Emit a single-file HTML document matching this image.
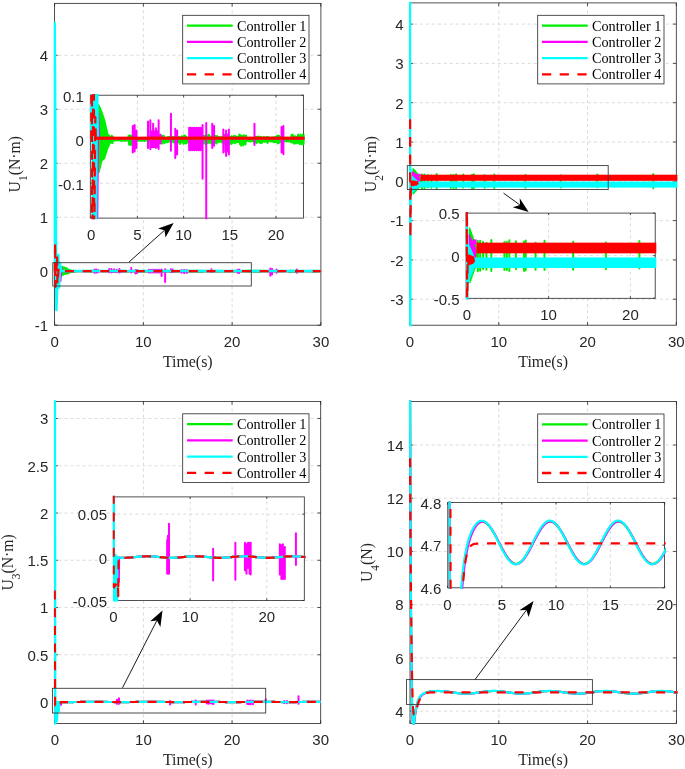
<!DOCTYPE html>
<html><head><meta charset="utf-8"><style>html,body{margin:0;padding:0;background:#fff;overflow:hidden}svg{display:block}</style></head>
<body><svg style="will-change:transform" width="685" height="769" viewBox="0 0 685 769" font-family='"Liberation Sans", sans-serif' font-size="15" fill="#262626">
<rect width="685" height="769" fill="#fff"/>
<clipPath id="c1"><rect x="53.5" y="2.25" width="268.5" height="324.05"/></clipPath>
<rect x="54.6" y="3.35" width="266.3" height="321.85" fill="#fff"/>
<path d="M143.37 325.2V3.35M232.14 325.2V3.35" stroke="#d6d6d6" stroke-width="0.9" stroke-dasharray="3 3" fill="none"/>
<path d="M54.6 271.2H320.9M54.6 217.22H320.9M54.6 163.24H320.9M54.6 109.26H320.9M54.6 55.28H320.9" stroke="#d6d6d6" stroke-width="0.9" stroke-dasharray="3 3" stroke-dashoffset="2.2" fill="none"/>
<path d="M54.6 325.2v-3.2M54.6 3.35v3.2M143.37 325.2v-3.2M143.37 3.35v3.2M232.14 325.2v-3.2M232.14 3.35v3.2M320.91 325.2v-3.2M320.91 3.35v3.2M54.6 325.18h3.2M320.9 325.18h-3.2M54.6 271.2h3.2M320.9 271.2h-3.2M54.6 217.22h3.2M320.9 217.22h-3.2M54.6 163.24h3.2M320.9 163.24h-3.2M54.6 109.26h3.2M320.9 109.26h-3.2M54.6 55.28h3.2M320.9 55.28h-3.2" stroke="#262626" stroke-width="0.8" fill="none"/>
<rect x="54.6" y="3.35" width="266.3" height="321.85" stroke="#262626" stroke-width="0.8" fill="none"/>
<g clip-path="url(#c1)">
<polygon points="61.26,271.20 61.70,267.04 64.36,267.85 67.03,268.88 70.13,270.61 72.35,270.88 75.02,271.04 75.02,271.36 72.35,271.63 70.13,272.28 67.03,273.52 64.36,273.85 61.70,275.25 61.26,271.20" fill="#00ee00" stroke="#00ee00" stroke-width="2.2" stroke-linejoin="round"/>
<polyline points="72.35,271 72.89,271.55 73.42,270.92 73.95,271.62 74.48,270.78 75.02,271.68 75.55,270.92 76.08,271.32 76.61,271.18 77.15,271.38 77.68,271.16 78.21,271.36 78.75,271.19 79.28,271.32 79.81,271.14 80.34,271.35 80.88,271.17 81.41,271.34 81.94,271.19 82.47,271.33 83.01,271.15 83.54,271.44 84.07,271.1 84.6,271.37 85.14,271.08 85.67,271.38 86.2,271.15 86.73,271.42 87.27,271.06 87.8,271.36 88.33,271.07 88.87,271.38 89.4,271.14 89.93,271.36 90.46,270.8 91,271.87 91.53,270.72 92.06,271.91 92.59,270.82 93.13,271.72 93.66,270.81 94.19,271.96 94.72,270.57 95.26,271.73 95.79,270.74 96.32,271.72 96.85,270.63 97.39,271.33 97.92,271.17 98.45,271.36 98.99,271.16 99.52,271.4 100.05,271.12 100.58,271.37 101.12,271.13 101.65,271.38 102.18,271.12 102.71,271.4 103.25,271.17 103.78,271.38 104.31,271.14 104.84,271.39 105.38,271.08 105.91,271.44 106.44,271.09 106.97,271.35 107.51,271.12 108.04,271.37 108.57,271.06 109.1,271.36 109.64,271.13 110.17,271.38 110.7,271.15 111.24,271.43 111.77,270.66 112.3,271.67 112.83,270.71 113.37,271.64 113.9,270.67 114.43,271.7 114.96,270.88 115.5,271.66 116.03,270.69 116.56,271.85 117.09,270.78 117.63,271.85 118.16,270.77 118.69,271.54 119.22,270.92 119.76,271.61 120.29,270.77 120.82,271.54 121.36,270.98 121.89,271.65 122.42,270.75 122.95,271.74 123.49,270.82 124.02,271.53 124.55,270.79 125.08,271.68 125.62,271.06 126.15,271.51 126.68,271.07 127.21,271.57 127.75,270.96 128.28,271.57 128.81,270.95 129.34,271.47 129.88,270.94 130.41,271.47 130.94,271.06 131.47,271.5 132.01,270.99 132.54,271.48 133.07,270.9 133.61,271.61 134.14,270.98 134.67,271.61 135.2,270.96 135.74,271.63 136.27,270.97 136.8,271.65 137.33,270.94 137.87,271.6 138.4,270.89 138.93,271.59 139.46,270.98 140,271.79 140.53,270.96 141.06,271.61 141.59,270.84 142.13,271.53 142.66,270.94 143.19,271.74 143.73,270.77 144.26,271.69 144.79,270.74 145.32,271.73 145.86,270.91 146.39,271.7 146.92,271.06 147.45,271.5 147.99,271.06 148.52,271.42 149.05,270.99 149.58,271.5 150.12,271 150.65,271.48 151.18,271 151.71,271.46 152.25,271.03 152.78,271.41 153.31,271.03 153.84,271.51 154.38,271.09 154.91,271.43 155.44,271.11 155.98,271.44 156.51,271.14 157.04,271.44 157.57,271.12 158.11,271.36 158.64,271.09 159.17,271.4 159.7,271.11 160.24,271.44 160.77,271.14 161.3,271.75 161.83,270.82 162.37,271.73 162.9,270.79 163.43,271.6 163.96,270.79 164.5,271.83 165.03,270.89 165.56,271.57 166.1,270.92 166.63,271.71 167.16,270.64 167.69,271.58 168.23,270.71 168.76,271.67 169.29,270.95 169.82,271.64 170.36,270.93 170.89,271.72 171.42,270.84 171.95,271.6 172.49,270.91 173.02,271.76 173.55,270.78 174.08,271.64 174.62,270.87 175.15,271.73 175.68,270.82 176.21,271.49 176.75,271 177.28,271.55 177.81,270.92 178.35,271.49 178.88,271.02 179.41,271.52 179.94,270.95 180.48,271.64 181.01,270.9 181.54,271.48 182.07,271.02 182.61,271.72 183.14,270.66 183.67,271.86 184.2,270.82 184.74,271.86 185.27,270.64 185.8,271.7 186.33,270.7 186.87,271.69 187.4,270.89 187.93,271.76 188.47,270.91 189,271.78 189.53,270.83 190.06,271.7 190.6,270.92 191.13,271.51 191.66,270.81 192.19,271.69 192.73,270.8 193.26,271.62 193.79,270.87 194.32,271.57 194.86,270.98 195.39,271.55 195.92,270.86 196.45,271.56 196.99,270.63 197.52,271.81 198.05,270.72 198.58,271.99 199.12,270.82 199.65,271.81 200.18,270.82 200.72,271.97 201.25,270.7 201.78,271.75 202.31,270.82 202.85,271.85 203.38,270.73 203.91,271.39 204.44,271.13 204.98,271.42 205.51,271.06 206.04,271.44 206.57,271.03 207.11,271.48 207.64,271.02 208.17,271.47 208.7,271.08 209.24,271.44 209.77,271.09 210.3,271.42 210.84,271.01 211.37,271.67 211.9,270.96 212.43,271.49 212.97,270.91 213.5,271.65 214.03,270.92 214.56,271.57 215.1,270.87 215.63,271.53 216.16,271.02 216.69,271.63 217.23,270.9 217.76,271.69 218.29,270.96 218.82,271.63 219.36,271.04 219.89,271.47 220.42,270.92 220.95,271.51 221.49,271.03 222.02,271.49 222.55,270.96 223.09,271.54 223.62,270.92 224.15,271.65 224.68,270.97 225.22,271.45 225.75,270.99 226.28,271.42 226.81,271.02 227.35,271.48 227.88,271.02 228.41,271.43 228.94,270.99 229.48,271.53 230.01,270.96 230.54,271.58 231.07,271.03 231.61,271.53 232.14,270.9 232.67,271.55 233.21,270.79 233.74,271.68 234.27,270.78 234.8,271.7 235.34,270.78 235.87,271.53 236.4,271 236.93,271.55 237.47,270.91 238,271.67 238.53,270.9 239.06,271.63 239.6,271.02 240.13,271.39 240.66,271.04 241.19,271.39 241.73,271.09 242.26,271.48 242.79,271.03 243.33,271.44 243.86,271.09 244.39,271.49 244.92,271.09 245.46,271.39 245.99,271.09 246.52,271.57 247.05,270.69 247.59,271.61 248.12,270.63 248.65,271.63 249.18,270.84 249.72,271.75 250.25,270.84 250.78,271.69 251.31,270.91 251.85,271.69 252.38,270.93 252.91,271.64 253.44,270.61 253.98,271.68 254.51,270.83 255.04,271.82 255.58,270.62 256.11,271.69 256.64,270.79 257.17,271.83 257.71,270.65 258.24,271.79 258.77,270.86 259.3,271.65 259.84,270.67 260.37,271.83 260.9,271.07 261.43,271.42 261.97,271.12 262.5,271.36 263.03,271.07 263.56,271.42 264.1,271.1 264.63,271.41 265.16,271.12 265.7,271.38 266.23,271.1 266.76,271.4 267.29,271.09 267.83,271.65 268.36,270.87 268.89,271.54 269.42,270.97 269.96,271.65 270.49,270.97 271.02,271.62 271.55,271.03 272.09,271.55 272.62,270.94 273.15,271.63 273.68,270.87 274.22,271.49 274.75,271.02 275.28,271.49 275.81,271.09 276.35,271.52 276.88,271.03 277.41,271.54 277.95,271.08 278.48,271.47 279.01,271.06 279.54,271.49 280.08,271.02 280.61,271.47 281.14,271.06 281.67,271.47 282.21,271.14 282.74,271.41 283.27,271.14 283.8,271.37 284.34,271.15 284.87,271.36 285.4,271.1 285.93,271.36 286.47,271.1 287,271.38 287.53,271.09 288.07,271.35 288.6,271.1 289.13,271.86 289.66,270.71 290.2,271.84 290.73,270.66 291.26,271.75 291.79,270.69 292.33,271.68 292.86,270.9 293.39,271.83 293.92,270.75 294.46,271.91 294.99,270.82 295.52,271.88 296.05,270.87 296.59,271.62 297.12,270.87 297.65,271.48 298.18,271.03 298.72,271.49 299.25,270.99 299.78,271.47 300.32,271.03 300.85,271.45 301.38,270.88 301.91,271.52 302.45,270.94 302.98,271.54 303.51,271.08 304.04,271.44 304.58,271.11 305.11,271.41 305.64,271.14 306.17,271.38 306.71,271.13 307.24,271.39 307.77,271.12 308.3,271.41 308.84,271.12 309.37,271.39 309.9,271.07 310.44,271.53 310.97,270.98 311.5,271.54 312.03,270.75 312.57,271.7 313.1,270.78 313.63,271.79 314.16,270.92 314.7,271.78 315.23,270.92 315.76,271.67 316.29,270.8 316.83,271.74 317.36,271.1 317.89,271.43 318.42,271.13 318.96,271.41 319.49,271.02 320.02,271.48 320.55,271.06" stroke="#00ee00" stroke-width="2.0" fill="none" stroke-linejoin="round"/>
<polyline points="59.48,271.2 60.37,280.92 61.26,267.96 62.15,271.09 63.03,271.09 320.91,271.09" stroke="#ff00ff" stroke-width="2.2" fill="none" stroke-linejoin="round"/>
<path d="M94.55 269.58V272.82M96.32 269.47V272.71M98.1 270.12V272.28M109.19 269.04V272.28M111.41 268.88V272.44M114.08 269.31V272.01M116.74 269.85V272.28M119.4 268.88V272.39M121.18 270.66V271.74M131.21 268.07V272.6M135.38 269.9V273.52M137.16 270.12V273.09M148.7 269.8V272.55M150.47 269.8V272.55M152.25 269.8V272.55M154.02 269.8V272.55M155.8 269.8V272.55M157.57 269.8V272.55M159.35 269.8V272.55M161.12 269.8V272.55M161.57 269.47V276.06M165.12 269.2V282M170.89 269.31V272.28M172.66 269.58V272.01M181.54 270.01V272.82M184.2 270.12V273.25M186.87 270.01V273.09M211.46 269.31V271.9M237.47 269.69V272.82M239.24 269.58V273.04M270.31 268.5V275.68M272.09 269.04V274.44M276.53 269.58V272.82M296.94 269.58V272.82" stroke="#ff00ff" stroke-width="2.0" fill="none" stroke-linecap="round"/>
<rect x="110.97" y="270.12" width="8.43" height="2.16" fill="#ff00ff"/>
<rect x="182.43" y="270.55" width="3.99" height="2.27" fill="#ff00ff"/>
<polyline points="54.6,271.2 54.69,22.89 56.38,310.07 58.33,255.01 59.04,287.39 60.1,263.1 60.99,271.09 320.91,271.09" stroke="#00ffff" stroke-width="2.5" fill="none" stroke-linejoin="round"/>
<polyline points="54.6,271.2 55.13,242.59 55.49,286.85 57.09,255.01 57.44,284.69 58.59,268.5 59.04,271.2 320.91,271.2" stroke="#ff0000" stroke-width="2.2" fill="none" stroke-linejoin="round" stroke-dasharray="9 8.7"/>
</g>
<text x="54.6" y="347" text-anchor="middle">0</text>
<text x="143.37" y="347" text-anchor="middle">10</text>
<text x="232.14" y="347" text-anchor="middle">20</text>
<text x="320.91" y="347" text-anchor="middle">30</text>
<text x="48.1" y="330.98" text-anchor="end">-1</text>
<text x="48.1" y="277" text-anchor="end">0</text>
<text x="48.1" y="223.02" text-anchor="end">1</text>
<text x="48.1" y="169.04" text-anchor="end">2</text>
<text x="48.1" y="115.06" text-anchor="end">3</text>
<text x="48.1" y="61.08" text-anchor="end">4</text>
<text x="187.75" y="366.5" text-anchor="middle" font-family='"Liberation Serif", serif' font-size="15.9" fill="#262626">Time(s)</text>
<text transform="translate(19.5,164.28) rotate(-90)" text-anchor="middle" font-family='"Liberation Serif", serif' font-size="15.7" fill="#262626">U<tspan font-size="11.5" dy="7.3">1</tspan><tspan dy="-7.3">(N·m)</tspan></text>
<rect x="182.7" y="15.3" width="126.3" height="68.6" fill="#fff" stroke="#262626" stroke-width="0.8"/>
<path d="M187 25.7H232.7" stroke="#00ee00" stroke-width="2.3"/>
<text x="236.9" y="30.7" font-family='"Liberation Serif", serif' font-size="14.2" letter-spacing="0.05" fill="#000">Controller 1</text>
<path d="M187 41.9H232.7" stroke="#ff00ff" stroke-width="2.3"/>
<text x="236.9" y="46.9" font-family='"Liberation Serif", serif' font-size="14.2" letter-spacing="0.05" fill="#000">Controller 2</text>
<path d="M187 58.1H232.7" stroke="#00ffff" stroke-width="2.3"/>
<text x="236.9" y="63.1" font-family='"Liberation Serif", serif' font-size="14.2" letter-spacing="0.05" fill="#000">Controller 3</text>
<path d="M187 74.3H232.7" stroke="#ff0000" stroke-width="2.3" stroke-dasharray="9.2 8.5"/>
<text x="236.9" y="79.3" font-family='"Liberation Serif", serif' font-size="14.2" letter-spacing="0.05" fill="#000">Controller 4</text>
<rect x="52.8" y="262.7" width="198.5" height="23.3" fill="none" stroke="#3a3a3a" stroke-width="0.9"/>
<clipPath id="c5"><rect x="89.2" y="94.1" width="215.4" height="125.1"/></clipPath>
<rect x="90.3" y="95.2" width="213.2" height="122.9" fill="#fff"/>
<path d="M137.4 218.1V95.2M183.6 218.1V95.2M229.8 218.1V95.2M276 218.1V95.2" stroke="#d6d6d6" stroke-width="0.9" stroke-dasharray="3 3" fill="none"/>
<path d="M90.3 183.2H303.5M90.3 139.2H303.5" stroke="#d6d6d6" stroke-width="0.9" stroke-dasharray="3 3" stroke-dashoffset="2.2" fill="none"/>
<path d="M91.2 218.1v-2.1M91.2 95.2v2.1M137.4 218.1v-2.1M137.4 95.2v2.1M183.6 218.1v-2.1M183.6 95.2v2.1M229.8 218.1v-2.1M229.8 95.2v2.1M276 218.1v-2.1M276 95.2v2.1M90.3 183.2h2.1M303.5 183.2h-2.1M90.3 139.2h2.1M303.5 139.2h-2.1M90.3 95.2h2.1M303.5 95.2h-2.1" stroke="#262626" stroke-width="0.8" fill="none"/>
<rect x="90.3" y="95.2" width="213.2" height="122.9" stroke="#262626" stroke-width="0.8" fill="none"/>
<g clip-path="url(#c5)">
<polygon points="98.13,139.20 98.59,105.32 101.36,111.92 104.14,120.28 107.37,134.36 109.68,136.56 112.45,137.88 112.45,140.52 109.68,142.72 107.37,148.00 104.14,158.12 101.36,160.76 98.59,172.20 98.13,139.20" fill="#00ee00" stroke="#00ee00" stroke-width="2.2" stroke-linejoin="round"/>
<polyline points="109.68,137.54 110.23,142.08 110.79,136.91 111.34,142.62 111.9,135.77 112.45,143.08 113.01,136.92 113.56,140.16 114.12,139.04 114.67,140.67 115.22,138.89 115.78,140.51 116.33,139.1 116.89,140.17 117.44,138.69 118,140.46 118.55,138.97 119.1,140.32 119.66,139.08 120.21,140.24 120.77,138.79 121.32,141.17 121.88,138.42 122.43,140.58 122.99,138.2 123.54,140.63 124.09,138.76 124.65,140.97 125.2,138.07 125.76,140.49 126.31,138.14 126.87,140.63 127.42,138.73 127.98,140.49 128.53,135.9 129.08,144.63 129.64,135.32 130.19,145 130.75,136.12 131.3,143.44 131.86,136 132.41,145.36 132.96,134.03 133.52,143.52 134.07,135.49 134.63,143.44 135.18,134.59 135.74,140.29 136.29,138.97 136.85,140.52 137.4,138.86 137.95,140.79 138.51,138.55 139.06,140.61 139.62,138.6 140.17,140.7 140.73,138.53 141.28,140.85 141.84,138.92 142.39,140.66 142.94,138.74 143.5,140.77 144.05,138.24 144.61,141.12 145.16,138.26 145.72,140.45 146.27,138.58 146.82,140.55 147.38,138.08 147.93,140.54 148.49,138.67 149.04,140.7 149.6,138.81 150.15,141.1 150.71,134.82 151.26,143.05 151.81,135.23 152.37,142.82 152.92,134.9 153.48,143.27 154.03,136.58 154.59,142.92 155.14,135.06 155.7,144.46 156.25,135.74 156.8,144.48 157.36,135.66 157.91,141.99 158.47,136.9 159.02,142.54 159.58,135.66 160.13,141.96 160.68,137.38 161.24,142.89 161.79,135.55 162.35,143.61 162.9,136.1 163.46,141.86 164.01,135.88 164.57,143.14 165.12,138.02 165.67,141.71 166.23,138.16 166.78,142.19 167.34,137.21 167.89,142.19 168.45,137.15 169,141.43 169.56,137.11 170.11,141.41 170.66,138.03 171.22,141.61 171.77,137.52 172.33,141.46 172.88,136.77 173.44,142.51 173.99,137.42 174.54,142.54 175.1,137.21 175.65,142.75 176.21,137.33 176.76,142.86 177.32,137.11 177.87,142.42 178.43,136.64 178.98,142.36 179.53,137.39 180.09,143.97 180.64,137.24 181.2,142.54 181.75,136.25 182.31,141.89 182.86,137.11 183.42,143.58 183.97,135.73 184.52,143.22 185.08,135.48 185.63,143.48 186.19,136.8 186.74,143.24 187.3,138.08 187.85,141.68 188.4,138.02 188.96,140.99 189.51,137.45 190.07,141.61 190.62,137.6 191.18,141.46 191.73,137.56 192.29,141.33 192.84,137.81 193.39,140.88 193.95,137.83 194.5,141.76 195.06,138.27 195.61,141.09 196.17,138.44 196.72,141.15 197.28,138.75 197.83,141.15 198.38,138.54 198.94,140.52 199.49,138.34 200.05,140.81 200.6,138.49 201.16,141.13 201.71,138.72 202.26,143.72 202.82,136.08 203.37,143.49 203.93,135.86 204.48,142.5 205.04,135.83 205.59,144.33 206.15,136.69 206.7,142.19 207.25,136.95 207.81,143.32 208.36,134.66 208.92,142.27 209.47,135.24 210.03,143.03 210.58,137.16 211.14,142.77 211.69,136.97 212.24,143.43 212.8,136.23 213.35,142.49 213.91,136.87 214.46,143.77 215.02,135.74 215.57,142.81 216.12,136.53 216.68,143.48 217.23,136.11 217.79,141.58 218.34,137.56 218.9,142.08 219.45,136.94 220.01,141.56 220.56,137.75 221.11,141.83 221.67,137.16 222.22,142.76 222.78,136.75 223.33,141.49 223.89,137.77 224.44,143.41 225,134.77 225.55,144.61 226.1,136.1 226.66,144.54 227.21,134.63 227.77,143.29 228.32,135.11 228.88,143.18 229.43,136.65 229.98,143.73 230.54,136.82 231.09,143.96 231.65,136.22 232.2,143.26 232.76,136.9 233.31,141.75 233.87,136.05 234.42,143.17 234.97,135.92 235.53,142.65 236.08,136.48 236.64,142.23 237.19,137.4 237.75,142.08 238.3,136.39 238.86,142.14 239.41,134.52 239.96,144.19 240.52,135.25 241.07,145.6 241.63,136.11 242.18,144.15 242.74,136.13 243.29,145.51 243.84,135.13 244.4,143.68 244.95,136.1 245.51,144.47 246.06,135.4 246.62,140.74 247.17,138.63 247.73,141 248.28,138.09 248.83,141.13 249.39,137.78 249.94,141.51 250.5,137.74 251.05,141.4 251.61,138.19 252.16,141.13 252.72,138.27 253.27,141.01 253.82,137.66 254.38,143.06 254.93,137.27 255.49,141.6 256.04,136.85 256.6,142.91 257.15,136.91 257.7,142.23 258.26,136.49 258.81,141.85 259.37,137.72 259.92,142.67 260.48,136.73 261.03,143.19 261.59,137.21 262.14,142.71 262.69,137.89 263.25,141.4 263.8,136.9 264.36,141.75 264.91,137.81 265.47,141.58 266.02,137.28 266.58,141.94 267.13,136.96 267.68,142.88 268.24,137.3 268.79,141.27 269.35,137.47 269.9,141.02 270.46,137.74 271.01,141.45 271.56,137.74 272.12,141.08 272.67,137.51 273.23,141.87 273.78,137.24 274.34,142.33 274.89,137.78 275.45,141.91 276,136.75 276.55,142.07 277.11,135.86 277.66,143.13 278.22,135.75 278.77,143.29 279.33,135.8 279.88,141.9 280.44,137.61 280.99,142.04 281.54,136.81 282.1,143.02 282.65,136.76 283.21,142.67 283.76,137.77 284.32,140.78 284.87,137.86 285.42,140.75 285.98,138.31 286.53,141.47 287.09,137.85 287.64,141.13 288.2,138.27 288.75,141.58 289.31,138.29 289.86,140.73 290.41,138.32 290.97,142.25 291.52,135.01 292.08,142.51 292.63,134.59 293.19,142.74 293.74,136.3 294.3,143.69 294.85,136.29 295.4,143.17 295.96,136.82 296.51,143.19 297.07,137.02 297.62,142.77 298.18,134.43 298.73,143.14 299.28,136.17 299.84,144.22 300.39,134.5 300.95,143.18 301.5,135.88 302.06,144.32 302.61,134.75 303.17,144.05 303.72,136.42 304.27,142.86 304.83,134.84 305.38,144.3 305.94,138.16 306.49,141.03 307.05,138.53 307.6,140.52 308.16,138.17 308.71,140.96 309.26,138.41 309.82,140.95 310.37,138.56 310.93,140.69 311.48,138.41 312.04,140.8 312.59,138.31 313.14,142.88 313.7,136.55 314.25,141.96 314.81,137.34 315.36,142.86 315.92,137.31 316.47,142.65 317.03,137.81 317.58,142.07 318.13,137.1 318.69,142.67 319.24,136.5 319.8,141.57 320.35,137.75 320.91,141.55 321.46,138.29 322.02,141.79 322.57,137.82 323.12,141.94 323.68,138.25 324.23,141.43 324.79,138.09 325.34,141.56 325.9,137.76 326.45,141.41 327,138.09 327.56,141.4 328.11,138.74 328.67,140.89 329.22,138.68 329.78,140.61 330.33,138.81 330.89,140.47 331.44,138.35 331.99,140.51 332.55,138.41 333.1,140.69 333.66,138.33 334.21,140.41 334.77,138.36 335.32,144.61 335.88,135.24 336.43,144.43 336.98,134.81 337.54,143.7 338.09,135.05 338.65,143.09 339.2,136.77 339.76,144.34 340.31,135.5 340.86,144.99 341.42,136.09 341.97,144.74 342.53,136.51 343.08,142.63 343.64,136.55 344.19,141.47 344.75,137.8 345.3,141.57 345.85,137.5 346.41,141.4 346.96,137.83 347.52,141.24 348.07,136.59 348.63,141.78 349.18,137.08 349.74,141.93 350.29,138.19 350.84,141.14 351.4,138.49 351.95,140.91 352.51,138.73 353.06,140.71 353.62,138.63 354.17,140.73 354.72,138.54 355.28,140.95 355.83,138.53 356.39,140.74 356.94,138.12 357.5,141.88 358.05,137.41 358.61,141.98 359.16,135.5 359.71,143.26 360.27,135.81 360.82,143.98 361.38,136.94 361.93,143.9 362.49,136.88 363.04,143.01 363.6,135.91 364.15,143.63 364.7,138.42 365.26,141.08 365.81,138.62 366.37,140.89 366.92,137.71 367.48,141.5 368.03,138.1" stroke="#00ee00" stroke-width="2.0" fill="none" stroke-linejoin="round"/>
<polyline points="96.28,139.2 97.21,218.4 98.13,112.8 99.05,138.32 99.98,138.32 368.4,138.32" stroke="#ff00ff" stroke-width="2.2" fill="none" stroke-linejoin="round"/>
<path d="M132.78 126V152.4M134.63 125.12V151.52M136.48 130.4V148M148.03 121.6V148M150.34 120.28V149.32M153.11 123.8V145.8M155.88 128.2V148M158.65 120.28V148.88M160.5 134.8V143.6M170.94 113.68V150.64M175.28 128.64V158.12M177.13 130.4V154.6M189.14 127.76V150.2M190.99 127.76V150.2M192.84 127.76V150.2M194.69 127.76V150.2M196.54 127.76V150.2M198.38 127.76V150.2M200.23 127.76V150.2M202.08 127.76V150.2M202.54 125.12V178.8M206.24 122.92V227.2M212.24 123.8V148M214.09 126V145.8M223.33 129.52V152.4M226.1 130.4V155.92M228.88 129.52V154.6M254.47 123.8V144.92M281.54 126.88V152.4M283.39 126V154.16M315.73 117.2V175.72M317.58 121.6V165.6M322.2 126V152.4M343.45 126V152.4" stroke="#ff00ff" stroke-width="2.0" fill="none" stroke-linecap="round"/>
<rect x="149.87" y="130.4" width="8.78" height="17.6" fill="#ff00ff"/>
<rect x="224.26" y="133.92" width="4.16" height="18.48" fill="#ff00ff"/>
<polyline points="91.2,139.2 91.29,-1884.8 93.05,456 95.08,7.2 95.82,271.2 96.93,73.2 97.85,138.32 368.4,138.32" stroke="#00ffff" stroke-width="2.5" fill="none" stroke-linejoin="round"/>
<polyline points="91.2,139.2 91.75,-94 92.12,266.8 93.79,7.2 94.16,249.2 95.36,117.2 95.82,139.2" stroke="#ff0000" stroke-width="2.2" fill="none" stroke-linejoin="round" stroke-dasharray="9 8.7"/>
<rect x="95.82" y="136.63" width="217.14" height="3.2" fill="#ff0000"/>
</g>
<text x="91.2" y="239.9" text-anchor="middle">0</text>
<text x="137.4" y="239.9" text-anchor="middle">5</text>
<text x="183.6" y="239.9" text-anchor="middle">10</text>
<text x="229.8" y="239.9" text-anchor="middle">15</text>
<text x="276" y="239.9" text-anchor="middle">20</text>
<text x="83.8" y="189.5" text-anchor="end">-0.1</text>
<text x="83.8" y="145.5" text-anchor="end">0</text>
<text x="83.8" y="101.5" text-anchor="end">0.1</text>
<path d="M129 262L164.5 230.3" stroke="#000" stroke-width="0.9"/>
<path d="M173.65 223.1L158.1 228.6L164.5 230.3L165.5 237.6Z" fill="#000"/>
<clipPath id="c2"><rect x="408.9" y="1.8" width="268.5" height="324.5"/></clipPath>
<rect x="410" y="2.9" width="266.3" height="322.3" fill="#fff"/>
<path d="M498.77 325.2V2.9M587.54 325.2V2.9" stroke="#d6d6d6" stroke-width="0.9" stroke-dasharray="3 3" fill="none"/>
<path d="M410 299.2H676.3M410 259.9H676.3M410 220.6H676.3M410 181.3H676.3M410 142H676.3M410 102.7H676.3M410 63.4H676.3M410 24.1H676.3" stroke="#d6d6d6" stroke-width="0.9" stroke-dasharray="3 3" stroke-dashoffset="2.2" fill="none"/>
<path d="M410 325.2v-3.2M410 2.9v3.2M498.77 325.2v-3.2M498.77 2.9v3.2M587.54 325.2v-3.2M587.54 2.9v3.2M676.31 325.2v-3.2M676.31 2.9v3.2M410 299.2h3.2M676.3 299.2h-3.2M410 259.9h3.2M676.3 259.9h-3.2M410 220.6h3.2M676.3 220.6h-3.2M410 181.3h3.2M676.3 181.3h-3.2M410 142h3.2M676.3 142h-3.2M410 102.7h3.2M676.3 102.7h-3.2M410 63.4h3.2M676.3 63.4h-3.2M410 24.1h3.2M676.3 24.1h-3.2" stroke="#262626" stroke-width="0.8" fill="none"/>
<rect x="410" y="2.9" width="266.3" height="322.3" stroke="#262626" stroke-width="0.8" fill="none"/>
<g clip-path="url(#c2)">
<polyline points="413.11,168.33 413.55,193.74 413.99,169.39 414.44,192.67 414.88,170.46 415.33,191.61 415.77,171.52 416.21,190.55 416.66,172.58 417.1,189.48 417.55,173.65 417.99,188.42 418.43,174.71 418.88,187.36 419.32,175.77 419.76,186.29 420.21,176.84 420.65,185.23" stroke="#00ee00" stroke-width="1.4" fill="none" stroke-linejoin="round"/>
<path d="M421.98 174.51V188.45M424.47 174.45V188.24M427.75 175V187.47M431.3 175.4V187.77M436.63 174.07V188.44M450.83 174.99V187.97M453.5 174.97V187.91M456.16 174.18V188.35M463.26 174.6V187.56M472.14 174.76V188.41M473.91 174.34V188.03M484.57 175.36V187.86M494.33 174.43V187.98M525.4 174.89V187.76M560.91 175.28V187.56M597.3 174.5V187.26M653.23 174.12V188.18" stroke="#00ee00" stroke-width="2.0" fill="none" stroke-linecap="round"/>
<polyline points="412.66,171.48 413.21,190.61 413.76,172.5 414.3,189.58 414.85,173.53 415.39,188.56 415.94,174.56 416.49,187.53 417.03,175.59 417.58,186.5 418.13,176.61 418.67,185.47 419.22,177.64 419.76,184.44" stroke="#ff00ff" stroke-width="1.4" fill="none" stroke-linejoin="round"/>
<rect x="416.66" y="173.83" width="3.99" height="2.36" fill="#ff00ff"/>
<polyline points="410,181.3 410.04,-54.5 410.27,377.8 410.71,169.51 411.78,194.27" stroke="#00ffff" stroke-width="2.2" fill="none" stroke-linejoin="round"/>
<polyline points="411.78,175.92 412.29,192.69 412.8,176.94 413.31,191.67 413.82,177.97 414.34,190.64 414.85,179 415.36,189.61 415.87,180.03 416.38,188.58 416.9,181.06 417.41,187.55 417.92,182.08 418.43,186.53" stroke="#00ffff" stroke-width="1.6" fill="none" stroke-linejoin="round"/>
<rect x="418.17" y="181.54" width="262.58" height="6.05" fill="#00ffff"/>
<polyline points="410,181.3 410.09,115.28 410.36,237.89 410.89,183.27" stroke="#ff0000" stroke-width="2.2" fill="none" stroke-linejoin="round" stroke-dasharray="9 8.7"/>
<polyline points="410.89,180.91 411.68,185.49 412.47,181.17 413.25,185.23 414.04,181.43 414.83,184.97 415.62,181.69 416.41,184.71 417.2,181.96 417.99,184.44" stroke="#ff0000" stroke-width="1.8" fill="none" stroke-linejoin="round"/>
<rect x="420.47" y="174.7" width="260.27" height="6.13" fill="#ff0000"/>
</g>
<text x="410" y="347" text-anchor="middle">0</text>
<text x="498.77" y="347" text-anchor="middle">10</text>
<text x="587.54" y="347" text-anchor="middle">20</text>
<text x="676.31" y="347" text-anchor="middle">30</text>
<text x="403.5" y="305" text-anchor="end">-3</text>
<text x="403.5" y="265.7" text-anchor="end">-2</text>
<text x="403.5" y="226.4" text-anchor="end">-1</text>
<text x="403.5" y="187.1" text-anchor="end">0</text>
<text x="403.5" y="147.8" text-anchor="end">1</text>
<text x="403.5" y="108.5" text-anchor="end">2</text>
<text x="403.5" y="69.2" text-anchor="end">3</text>
<text x="403.5" y="29.9" text-anchor="end">4</text>
<text x="543.15" y="366.5" text-anchor="middle" font-family='"Liberation Serif", serif' font-size="15.9" fill="#262626">Time(s)</text>
<text transform="translate(375.6,164.05) rotate(-90)" text-anchor="middle" font-family='"Liberation Serif", serif' font-size="15.7" fill="#262626">U<tspan font-size="11.5" dy="7.3">2</tspan><tspan dy="-7.3">(N·m)</tspan></text>
<rect x="537.7" y="15.3" width="126.3" height="68.6" fill="#fff" stroke="#262626" stroke-width="0.8"/>
<path d="M542 25.7H587.7" stroke="#00ee00" stroke-width="2.3"/>
<text x="591.9" y="30.7" font-family='"Liberation Serif", serif' font-size="14.2" letter-spacing="0.05" fill="#000">Controller 1</text>
<path d="M542 41.9H587.7" stroke="#ff00ff" stroke-width="2.3"/>
<text x="591.9" y="46.9" font-family='"Liberation Serif", serif' font-size="14.2" letter-spacing="0.05" fill="#000">Controller 2</text>
<path d="M542 58.1H587.7" stroke="#00ffff" stroke-width="2.3"/>
<text x="591.9" y="63.1" font-family='"Liberation Serif", serif' font-size="14.2" letter-spacing="0.05" fill="#000">Controller 3</text>
<path d="M542 74.3H587.7" stroke="#ff0000" stroke-width="2.3" stroke-dasharray="9.2 8.5"/>
<text x="591.9" y="79.3" font-family='"Liberation Serif", serif' font-size="14.2" letter-spacing="0.05" fill="#000">Controller 4</text>
<rect x="407.3" y="165.6" width="200.9" height="23.9" fill="none" stroke="#3a3a3a" stroke-width="0.9"/>
<clipPath id="c6"><rect x="465" y="212" width="191.3" height="87.4"/></clipPath>
<rect x="466.1" y="213.1" width="189.1" height="85.2" fill="#fff"/>
<path d="M548.6 298.3V213.1M630.4 298.3V213.1" stroke="#d6d6d6" stroke-width="0.9" stroke-dasharray="3 3" fill="none"/>
<path d="M466.1 255.65H655.2" stroke="#d6d6d6" stroke-width="0.9" stroke-dasharray="3 3" stroke-dashoffset="2.2" fill="none"/>
<path d="M466.8 298.3v-2.1M466.8 213.1v2.1M548.6 298.3v-2.1M548.6 213.1v2.1M630.4 298.3v-2.1M630.4 213.1v2.1M466.1 298.2h2.1M655.2 298.2h-2.1M466.1 255.65h2.1M655.2 255.65h-2.1M466.1 213.1h2.1M655.2 213.1h-2.1" stroke="#262626" stroke-width="0.8" fill="none"/>
<rect x="466.1" y="213.1" width="189.1" height="85.2" stroke="#262626" stroke-width="0.8" fill="none"/>
<g clip-path="url(#c6)">
<polyline points="469.66,227.57 470.07,282.58 470.48,229.87 470.89,280.28 471.3,232.17 471.71,277.98 472.12,234.48 472.53,275.67 472.94,236.78 473.34,273.37 473.75,239.08 474.16,271.07 474.57,241.38 474.98,268.77 475.39,243.69 475.8,266.46 476.21,245.99 476.62,264.16" stroke="#00ee00" stroke-width="1.4" fill="none" stroke-linejoin="round"/>
<path d="M477.84 240.95V271.14M480.13 240.81V270.69M483.16 242.01V269.01M486.43 242.88V269.66M491.34 239.99V271.11M504.43 242V270.1M506.88 241.95V269.97M509.34 240.23V270.92M515.88 241.14V269.21M524.06 241.48V271.05M525.7 240.58V270.23M535.51 242.79V269.85M544.51 240.78V270.11M573.14 241.77V269.65M605.86 242.61V269.2M639.4 240.92V268.55M690.93 240.11V270.55" stroke="#00ee00" stroke-width="2.0" fill="none" stroke-linecap="round"/>
<polyline points="469.25,234.38 469.76,275.81 470.26,236.6 470.76,273.59 471.27,238.83 471.77,271.36 472.27,241.05 472.78,269.14 473.28,243.28 473.78,266.91 474.29,245.5 474.79,264.68 475.29,247.73 475.8,262.46" stroke="#ff00ff" stroke-width="1.4" fill="none" stroke-linejoin="round"/>
<rect x="472.94" y="239.48" width="3.68" height="5.11" fill="#ff00ff"/>
<polyline points="466.8,255.65 466.84,-254.95 467.05,681.15 467.45,230.12 468.44,283.73" stroke="#00ffff" stroke-width="2.2" fill="none" stroke-linejoin="round"/>
<polyline points="468.44,243.99 468.91,280.32 469.38,246.22 469.85,278.1 470.32,248.44 470.8,275.87 471.27,250.67 471.74,273.65 472.21,252.89 472.68,271.42 473.16,255.12 473.63,269.19 474.1,257.35 474.57,266.97" stroke="#00ffff" stroke-width="1.6" fill="none" stroke-linejoin="round"/>
<rect x="474.33" y="257.44" width="241.96" height="10.54" fill="#00ffff"/>
<polyline points="466.8,255.65 466.88,112.68 467.13,378.19 467.62,259.91" stroke="#ff0000" stroke-width="2.2" fill="none" stroke-linejoin="round" stroke-dasharray="9 8.7"/>
<polyline points="467.62,254.8 468.35,264.73 469.07,255.37 469.8,264.16 470.53,255.93 471.25,263.59 471.98,256.5 472.71,263.03 473.43,257.07 474.16,262.46" stroke="#ff0000" stroke-width="1.8" fill="none" stroke-linejoin="round"/>
<rect x="476.45" y="242.64" width="239.84" height="10.71" fill="#ff0000"/>
</g>
<text x="466.8" y="320.1" text-anchor="middle">0</text>
<text x="548.6" y="320.1" text-anchor="middle">10</text>
<text x="630.4" y="320.1" text-anchor="middle">20</text>
<text x="459.6" y="304.5" text-anchor="end">-0.5</text>
<text x="459.6" y="261.95" text-anchor="end">0</text>
<text x="459.6" y="219.4" text-anchor="end">0.5</text>
<path d="M503.5 193.1L520.1 205.1" stroke="#000" stroke-width="0.9"/>
<path d="M528.65 212.1L519.7 198.3L520.1 205.1L512.7 207.3Z" fill="#000"/>
<clipPath id="c3"><rect x="53.7" y="400.3" width="268.1" height="324.3"/></clipPath>
<rect x="54.8" y="401.4" width="265.9" height="322.1" fill="#fff"/>
<path d="M143.43 723.5V401.4M232.06 723.5V401.4" stroke="#d6d6d6" stroke-width="0.9" stroke-dasharray="3 3" fill="none"/>
<path d="M54.8 702H320.7M54.8 654.75H320.7M54.8 607.5H320.7M54.8 560.25H320.7M54.8 513H320.7M54.8 465.75H320.7M54.8 418.5H320.7" stroke="#d6d6d6" stroke-width="0.9" stroke-dasharray="3 3" stroke-dashoffset="2.2" fill="none"/>
<path d="M54.8 723.5v-3.2M54.8 401.4v3.2M143.43 723.5v-3.2M143.43 401.4v3.2M232.06 723.5v-3.2M232.06 401.4v3.2M320.69 723.5v-3.2M320.69 401.4v3.2M54.8 702h3.2M320.7 702h-3.2M54.8 654.75h3.2M320.7 654.75h-3.2M54.8 607.5h3.2M320.7 607.5h-3.2M54.8 560.25h3.2M320.7 560.25h-3.2M54.8 513h3.2M320.7 513h-3.2M54.8 465.75h3.2M320.7 465.75h-3.2M54.8 418.5h3.2M320.7 418.5h-3.2" stroke="#262626" stroke-width="0.8" fill="none"/>
<rect x="54.8" y="401.4" width="265.9" height="322.1" stroke="#262626" stroke-width="0.8" fill="none"/>
<g clip-path="url(#c3)">
<polyline points="60.12,704.65 60.83,702.09 61.45,702.05 62.31,702.05 63.18,702.05 64.05,702.05 64.92,702.06 65.78,702.06 66.65,702.06 67.52,702.06 68.38,702.05 69.25,702.05 70.12,702.05 70.98,702.04 71.85,702.04 72.72,702.03 73.59,702.03 74.45,702.02 75.32,702.01 76.19,702.01 77.05,702 77.92,701.99 78.79,701.98 79.65,701.98 80.52,701.97 81.39,701.96 82.26,701.95 83.12,701.94 83.99,701.94 84.86,701.93 85.72,701.92 86.59,701.91 87.46,701.91 88.33,701.9 89.19,701.9 90.06,701.89 90.93,701.89 91.79,701.89 92.66,701.89 93.53,701.89 94.39,701.89 95.26,701.89 96.13,701.89 97,701.89 97.86,701.89 98.73,701.9 99.6,701.9 100.46,701.91 101.33,701.91 102.2,701.92 103.06,701.93 103.93,701.93 104.8,701.94 105.67,701.95 106.53,701.96 107.4,701.97 108.27,701.98 109.13,701.98 110,701.99 110.87,702 111.74,702.01 112.6,702.01 113.47,702.02 114.34,702.03 115.2,702.03 116.07,702.04 116.94,702.04 117.8,702.05 118.67,702.05 119.54,702.05 120.41,702.06 121.27,702.06 122.14,702.06 123.01,702.06 123.87,702.05 124.74,702.05 125.61,702.05 126.47,702.05 127.34,702.04 128.21,702.04 129.08,702.03 129.94,702.02 130.81,702.02 131.68,702.01 132.54,702 133.41,701.99 134.28,701.99 135.15,701.98 136.01,701.97 136.88,701.96 137.75,701.95 138.61,701.94 139.48,701.94 140.35,701.93 141.21,701.92 142.08,701.92 142.95,701.91 143.82,701.9 144.68,701.9 145.55,701.9 146.42,701.89 147.28,701.89 148.15,701.89 149.02,701.89 149.88,701.89 150.75,701.89 151.62,701.89 152.49,701.89 153.35,701.89 154.22,701.9 155.09,701.9 155.95,701.91 156.82,701.91 157.69,701.92 158.55,701.93 159.42,701.93 160.29,701.94 161.16,701.95 162.02,701.96 162.89,701.96 163.76,701.97 164.62,701.98 165.49,701.99 166.36,702 167.23,702.01 168.09,702.01 168.96,702.02 169.83,702.03 170.69,702.03 171.56,702.04 172.43,702.04 173.29,702.05 174.16,702.05 175.03,702.05 175.9,702.06 176.76,702.06 177.63,702.06 178.5,702.06 179.36,702.05 180.23,702.05 181.1,702.05 181.96,702.05 182.83,702.04 183.7,702.04 184.57,702.03 185.43,702.02 186.3,702.02 187.17,702.01 188.03,702 188.9,702 189.77,701.99 190.64,701.98 191.5,701.97 192.37,701.96 193.24,701.95 194.1,701.95 194.97,701.94 195.84,701.93 196.7,701.92 197.57,701.92 198.44,701.91 199.31,701.91 200.17,701.9 201.04,701.9 201.91,701.89 202.77,701.89 203.64,701.89 204.51,701.89 205.37,701.89 206.24,701.89 207.11,701.89 207.98,701.89 208.84,701.89 209.71,701.9 210.58,701.9 211.44,701.91 212.31,701.91 213.18,701.92 214.04,701.92 214.91,701.93 215.78,701.94 216.65,701.95 217.51,701.95 218.38,701.96 219.25,701.97 220.11,701.98 220.98,701.99 221.85,702 222.72,702 223.58,702.01 224.45,702.02 225.32,702.03 226.18,702.03 227.05,702.04 227.92,702.04 228.78,702.05 229.65,702.05 230.52,702.05 231.39,702.05 232.25,702.06 233.12,702.06 233.99,702.06 234.85,702.06 235.72,702.05 236.59,702.05 237.45,702.05 238.32,702.04 239.19,702.04 240.06,702.03 240.92,702.03 241.79,702.02 242.66,702.01 243.52,702.01 244.39,702 245.26,701.99 246.13,701.98 246.99,701.97 247.86,701.96 248.73,701.96 249.59,701.95 250.46,701.94 251.33,701.93 252.19,701.93 253.06,701.92 253.93,701.91 254.8,701.91 255.66,701.9 256.53,701.9 257.4,701.89 258.26,701.89 259.13,701.89 260,701.89 260.86,701.89 261.73,701.89 262.6,701.89 263.47,701.89 264.33,701.89 265.2,701.9 266.07,701.9 266.93,701.9 267.8,701.91 268.67,701.92 269.54,701.92 270.4,701.93 271.27,701.94 272.14,701.94 273,701.95 273.87,701.96 274.74,701.97 275.6,701.98 276.47,701.99 277.34,701.99 278.21,702 279.07,702.01 279.94,702.02 280.81,702.02 281.67,702.03 282.54,702.04 283.41,702.04 284.27,702.05 285.14,702.05 286.01,702.05 286.88,702.05 287.74,702.06 288.61,702.06 289.48,702.06 290.34,702.06 291.21,702.05 292.08,702.05 292.94,702.05 293.81,702.04 294.68,702.04 295.55,702.03 296.41,702.03 297.28,702.02 298.15,702.01 299.01,702.01 299.88,702 300.75,701.99 301.62,701.98 302.48,701.97 303.35,701.97 304.22,701.96 305.08,701.95 305.95,701.94 306.82,701.93 307.68,701.93 308.55,701.92 309.42,701.91 310.29,701.91 311.15,701.9 312.02,701.9 312.89,701.89 313.75,701.89 314.62,701.89 315.49,701.89 316.35,701.89 317.22,701.89 318.09,701.89 318.96,701.89 319.82,701.89 320.69,701.89" stroke="#00ee00" stroke-width="2.2" fill="none" stroke-linejoin="round"/>
<polyline points="59.23,704.84 60.92,704.65 61.18,702.19 61.45,702.05 62.31,702.05 63.18,702.05 64.05,702.05 64.92,702.06 65.78,702.06 66.65,702.06 67.52,702.06 68.38,702.05 69.25,702.05 70.12,702.05 70.98,702.04 71.85,702.04 72.72,702.03 73.59,702.03 74.45,702.02 75.32,702.01 76.19,702.01 77.05,702 77.92,701.99 78.79,701.98 79.65,701.98 80.52,701.97 81.39,701.96 82.26,701.95 83.12,701.94 83.99,701.94 84.86,701.93 85.72,701.92 86.59,701.91 87.46,701.91 88.33,701.9 89.19,701.9 90.06,701.89 90.93,701.89 91.79,701.89 92.66,701.89 93.53,701.89 94.39,701.89 95.26,701.89 96.13,701.89 97,701.89 97.86,701.89 98.73,701.9 99.6,701.9 100.46,701.91 101.33,701.91 102.2,701.92 103.06,701.93 103.93,701.93 104.8,701.94 105.67,701.95 106.53,701.96 107.4,701.97 108.27,701.98 109.13,701.98 110,701.99 110.87,702 111.74,702.01 112.6,702.01 113.47,702.02 114.34,702.03 115.2,702.03 116.07,702.04 116.94,702.04 117.8,702.05 118.67,702.05 119.54,702.05 120.41,702.06 121.27,702.06 122.14,702.06 123.01,702.06 123.87,702.05 124.74,702.05 125.61,702.05 126.47,702.05 127.34,702.04 128.21,702.04 129.08,702.03 129.94,702.02 130.81,702.02 131.68,702.01 132.54,702 133.41,701.99 134.28,701.99 135.15,701.98 136.01,701.97 136.88,701.96 137.75,701.95 138.61,701.94 139.48,701.94 140.35,701.93 141.21,701.92 142.08,701.92 142.95,701.91 143.82,701.9 144.68,701.9 145.55,701.9 146.42,701.89 147.28,701.89 148.15,701.89 149.02,701.89 149.88,701.89 150.75,701.89 151.62,701.89 152.49,701.89 153.35,701.89 154.22,701.9 155.09,701.9 155.95,701.91 156.82,701.91 157.69,701.92 158.55,701.93 159.42,701.93 160.29,701.94 161.16,701.95 162.02,701.96 162.89,701.96 163.76,701.97 164.62,701.98 165.49,701.99 166.36,702 167.23,702.01 168.09,702.01 168.96,702.02 169.83,702.03 170.69,702.03 171.56,702.04 172.43,702.04 173.29,702.05 174.16,702.05 175.03,702.05 175.9,702.06 176.76,702.06 177.63,702.06 178.5,702.06 179.36,702.05 180.23,702.05 181.1,702.05 181.96,702.05 182.83,702.04 183.7,702.04 184.57,702.03 185.43,702.02 186.3,702.02 187.17,702.01 188.03,702 188.9,702 189.77,701.99 190.64,701.98 191.5,701.97 192.37,701.96 193.24,701.95 194.1,701.95 194.97,701.94 195.84,701.93 196.7,701.92 197.57,701.92 198.44,701.91 199.31,701.91 200.17,701.9 201.04,701.9 201.91,701.89 202.77,701.89 203.64,701.89 204.51,701.89 205.37,701.89 206.24,701.89 207.11,701.89 207.98,701.89 208.84,701.89 209.71,701.9 210.58,701.9 211.44,701.91 212.31,701.91 213.18,701.92 214.04,701.92 214.91,701.93 215.78,701.94 216.65,701.95 217.51,701.95 218.38,701.96 219.25,701.97 220.11,701.98 220.98,701.99 221.85,702 222.72,702 223.58,702.01 224.45,702.02 225.32,702.03 226.18,702.03 227.05,702.04 227.92,702.04 228.78,702.05 229.65,702.05 230.52,702.05 231.39,702.05 232.25,702.06 233.12,702.06 233.99,702.06 234.85,702.06 235.72,702.05 236.59,702.05 237.45,702.05 238.32,702.04 239.19,702.04 240.06,702.03 240.92,702.03 241.79,702.02 242.66,702.01 243.52,702.01 244.39,702 245.26,701.99 246.13,701.98 246.99,701.97 247.86,701.96 248.73,701.96 249.59,701.95 250.46,701.94 251.33,701.93 252.19,701.93 253.06,701.92 253.93,701.91 254.8,701.91 255.66,701.9 256.53,701.9 257.4,701.89 258.26,701.89 259.13,701.89 260,701.89 260.86,701.89 261.73,701.89 262.6,701.89 263.47,701.89 264.33,701.89 265.2,701.9 266.07,701.9 266.93,701.9 267.8,701.91 268.67,701.92 269.54,701.92 270.4,701.93 271.27,701.94 272.14,701.94 273,701.95 273.87,701.96 274.74,701.97 275.6,701.98 276.47,701.99 277.34,701.99 278.21,702 279.07,702.01 279.94,702.02 280.81,702.02 281.67,702.03 282.54,702.04 283.41,702.04 284.27,702.05 285.14,702.05 286.01,702.05 286.88,702.05 287.74,702.06 288.61,702.06 289.48,702.06 290.34,702.06 291.21,702.05 292.08,702.05 292.94,702.05 293.81,702.04 294.68,702.04 295.55,702.03 296.41,702.03 297.28,702.02 298.15,702.01 299.01,702.01 299.88,702 300.75,701.99 301.62,701.98 302.48,701.97 303.35,701.97 304.22,701.96 305.08,701.95 305.95,701.94 306.82,701.93 307.68,701.93 308.55,701.92 309.42,701.91 310.29,701.91 311.15,701.9 312.02,701.9 312.89,701.89 313.75,701.89 314.62,701.89 315.49,701.89 316.35,701.89 317.22,701.89 318.09,701.89 318.96,701.89 319.82,701.89 320.69,701.89" stroke="#ff00ff" stroke-width="2.2" fill="none" stroke-linejoin="round"/>
<path d="M116.84 700.11V703.8M117.73 699.64V703.61M118.61 700.11V703.8M118.97 698.31V703.8M170.02 701.05V704.55M195.72 700.39V704.46M206.8 700.39V703.42M208.57 700.58V703.8M210.35 700.39V703.13M212.12 700.39V703.8M213.45 700.39V703.89M247.13 700.58V703.89M248.9 700.68V704.36M250.67 700.58V704.36M252.89 700.87V704.36M265.74 699.35V702.85M284.35 701.05V702.95M287.01 701.05V703.13M298.53 696.24V703.8" stroke="#ff00ff" stroke-width="2.0" fill="none" stroke-linecap="round"/>
<polyline points="54.8,702 54.98,390.15 55.33,730.35 56.13,701.62 57.02,720.9 57.9,701.81 58.79,711.45 59.23,702 61.45,702.05 62.31,702.05 63.18,702.05 64.05,702.05 64.92,702.06 65.78,702.06 66.65,702.06 67.52,702.06 68.38,702.05 69.25,702.05 70.12,702.05 70.98,702.04 71.85,702.04 72.72,702.03 73.59,702.03 74.45,702.02 75.32,702.01 76.19,702.01 77.05,702 77.92,701.99 78.79,701.98 79.65,701.98 80.52,701.97 81.39,701.96 82.26,701.95 83.12,701.94 83.99,701.94 84.86,701.93 85.72,701.92 86.59,701.91 87.46,701.91 88.33,701.9 89.19,701.9 90.06,701.89 90.93,701.89 91.79,701.89 92.66,701.89 93.53,701.89 94.39,701.89 95.26,701.89 96.13,701.89 97,701.89 97.86,701.89 98.73,701.9 99.6,701.9 100.46,701.91 101.33,701.91 102.2,701.92 103.06,701.93 103.93,701.93 104.8,701.94 105.67,701.95 106.53,701.96 107.4,701.97 108.27,701.98 109.13,701.98 110,701.99 110.87,702 111.74,702.01 112.6,702.01 113.47,702.02 114.34,702.03 115.2,702.03 116.07,702.04 116.94,702.04 117.8,702.05 118.67,702.05 119.54,702.05 120.41,702.06 121.27,702.06 122.14,702.06 123.01,702.06 123.87,702.05 124.74,702.05 125.61,702.05 126.47,702.05 127.34,702.04 128.21,702.04 129.08,702.03 129.94,702.02 130.81,702.02 131.68,702.01 132.54,702 133.41,701.99 134.28,701.99 135.15,701.98 136.01,701.97 136.88,701.96 137.75,701.95 138.61,701.94 139.48,701.94 140.35,701.93 141.21,701.92 142.08,701.92 142.95,701.91 143.82,701.9 144.68,701.9 145.55,701.9 146.42,701.89 147.28,701.89 148.15,701.89 149.02,701.89 149.88,701.89 150.75,701.89 151.62,701.89 152.49,701.89 153.35,701.89 154.22,701.9 155.09,701.9 155.95,701.91 156.82,701.91 157.69,701.92 158.55,701.93 159.42,701.93 160.29,701.94 161.16,701.95 162.02,701.96 162.89,701.96 163.76,701.97 164.62,701.98 165.49,701.99 166.36,702 167.23,702.01 168.09,702.01 168.96,702.02 169.83,702.03 170.69,702.03 171.56,702.04 172.43,702.04 173.29,702.05 174.16,702.05 175.03,702.05 175.9,702.06 176.76,702.06 177.63,702.06 178.5,702.06 179.36,702.05 180.23,702.05 181.1,702.05 181.96,702.05 182.83,702.04 183.7,702.04 184.57,702.03 185.43,702.02 186.3,702.02 187.17,702.01 188.03,702 188.9,702 189.77,701.99 190.64,701.98 191.5,701.97 192.37,701.96 193.24,701.95 194.1,701.95 194.97,701.94 195.84,701.93 196.7,701.92 197.57,701.92 198.44,701.91 199.31,701.91 200.17,701.9 201.04,701.9 201.91,701.89 202.77,701.89 203.64,701.89 204.51,701.89 205.37,701.89 206.24,701.89 207.11,701.89 207.98,701.89 208.84,701.89 209.71,701.9 210.58,701.9 211.44,701.91 212.31,701.91 213.18,701.92 214.04,701.92 214.91,701.93 215.78,701.94 216.65,701.95 217.51,701.95 218.38,701.96 219.25,701.97 220.11,701.98 220.98,701.99 221.85,702 222.72,702 223.58,702.01 224.45,702.02 225.32,702.03 226.18,702.03 227.05,702.04 227.92,702.04 228.78,702.05 229.65,702.05 230.52,702.05 231.39,702.05 232.25,702.06 233.12,702.06 233.99,702.06 234.85,702.06 235.72,702.05 236.59,702.05 237.45,702.05 238.32,702.04 239.19,702.04 240.06,702.03 240.92,702.03 241.79,702.02 242.66,702.01 243.52,702.01 244.39,702 245.26,701.99 246.13,701.98 246.99,701.97 247.86,701.96 248.73,701.96 249.59,701.95 250.46,701.94 251.33,701.93 252.19,701.93 253.06,701.92 253.93,701.91 254.8,701.91 255.66,701.9 256.53,701.9 257.4,701.89 258.26,701.89 259.13,701.89 260,701.89 260.86,701.89 261.73,701.89 262.6,701.89 263.47,701.89 264.33,701.89 265.2,701.9 266.07,701.9 266.93,701.9 267.8,701.91 268.67,701.92 269.54,701.92 270.4,701.93 271.27,701.94 272.14,701.94 273,701.95 273.87,701.96 274.74,701.97 275.6,701.98 276.47,701.99 277.34,701.99 278.21,702 279.07,702.01 279.94,702.02 280.81,702.02 281.67,702.03 282.54,702.04 283.41,702.04 284.27,702.05 285.14,702.05 286.01,702.05 286.88,702.05 287.74,702.06 288.61,702.06 289.48,702.06 290.34,702.06 291.21,702.05 292.08,702.05 292.94,702.05 293.81,702.04 294.68,702.04 295.55,702.03 296.41,702.03 297.28,702.02 298.15,702.01 299.01,702.01 299.88,702 300.75,701.99 301.62,701.98 302.48,701.97 303.35,701.97 304.22,701.96 305.08,701.95 305.95,701.94 306.82,701.93 307.68,701.93 308.55,701.92 309.42,701.91 310.29,701.91 311.15,701.9 312.02,701.9 312.89,701.89 313.75,701.89 314.62,701.89 315.49,701.89 316.35,701.89 317.22,701.89 318.09,701.89 318.96,701.89 319.82,701.89 320.69,701.89" stroke="#00ffff" stroke-width="2.2" fill="none" stroke-linejoin="round"/>
<polyline points="54.8,590.49 55.07,705.31 59.94,704.65 60.3,706.25 60.47,703.89 60.74,702.09 61.18,702 61.45,702.05 62.31,702.05 63.18,702.05 64.05,702.05 64.92,702.06 65.78,702.06 66.65,702.06 67.52,702.06 68.38,702.05 69.25,702.05 70.12,702.05 70.98,702.04 71.85,702.04 72.72,702.03 73.59,702.03 74.45,702.02 75.32,702.01 76.19,702.01 77.05,702 77.92,701.99 78.79,701.98 79.65,701.98 80.52,701.97 81.39,701.96 82.26,701.95 83.12,701.94 83.99,701.94 84.86,701.93 85.72,701.92 86.59,701.91 87.46,701.91 88.33,701.9 89.19,701.9 90.06,701.89 90.93,701.89 91.79,701.89 92.66,701.89 93.53,701.89 94.39,701.89 95.26,701.89 96.13,701.89 97,701.89 97.86,701.89 98.73,701.9 99.6,701.9 100.46,701.91 101.33,701.91 102.2,701.92 103.06,701.93 103.93,701.93 104.8,701.94 105.67,701.95 106.53,701.96 107.4,701.97 108.27,701.98 109.13,701.98 110,701.99 110.87,702 111.74,702.01 112.6,702.01 113.47,702.02 114.34,702.03 115.2,702.03 116.07,702.04 116.94,702.04 117.8,702.05 118.67,702.05 119.54,702.05 120.41,702.06 121.27,702.06 122.14,702.06 123.01,702.06 123.87,702.05 124.74,702.05 125.61,702.05 126.47,702.05 127.34,702.04 128.21,702.04 129.08,702.03 129.94,702.02 130.81,702.02 131.68,702.01 132.54,702 133.41,701.99 134.28,701.99 135.15,701.98 136.01,701.97 136.88,701.96 137.75,701.95 138.61,701.94 139.48,701.94 140.35,701.93 141.21,701.92 142.08,701.92 142.95,701.91 143.82,701.9 144.68,701.9 145.55,701.9 146.42,701.89 147.28,701.89 148.15,701.89 149.02,701.89 149.88,701.89 150.75,701.89 151.62,701.89 152.49,701.89 153.35,701.89 154.22,701.9 155.09,701.9 155.95,701.91 156.82,701.91 157.69,701.92 158.55,701.93 159.42,701.93 160.29,701.94 161.16,701.95 162.02,701.96 162.89,701.96 163.76,701.97 164.62,701.98 165.49,701.99 166.36,702 167.23,702.01 168.09,702.01 168.96,702.02 169.83,702.03 170.69,702.03 171.56,702.04 172.43,702.04 173.29,702.05 174.16,702.05 175.03,702.05 175.9,702.06 176.76,702.06 177.63,702.06 178.5,702.06 179.36,702.05 180.23,702.05 181.1,702.05 181.96,702.05 182.83,702.04 183.7,702.04 184.57,702.03 185.43,702.02 186.3,702.02 187.17,702.01 188.03,702 188.9,702 189.77,701.99 190.64,701.98 191.5,701.97 192.37,701.96 193.24,701.95 194.1,701.95 194.97,701.94 195.84,701.93 196.7,701.92 197.57,701.92 198.44,701.91 199.31,701.91 200.17,701.9 201.04,701.9 201.91,701.89 202.77,701.89 203.64,701.89 204.51,701.89 205.37,701.89 206.24,701.89 207.11,701.89 207.98,701.89 208.84,701.89 209.71,701.9 210.58,701.9 211.44,701.91 212.31,701.91 213.18,701.92 214.04,701.92 214.91,701.93 215.78,701.94 216.65,701.95 217.51,701.95 218.38,701.96 219.25,701.97 220.11,701.98 220.98,701.99 221.85,702 222.72,702 223.58,702.01 224.45,702.02 225.32,702.03 226.18,702.03 227.05,702.04 227.92,702.04 228.78,702.05 229.65,702.05 230.52,702.05 231.39,702.05 232.25,702.06 233.12,702.06 233.99,702.06 234.85,702.06 235.72,702.05 236.59,702.05 237.45,702.05 238.32,702.04 239.19,702.04 240.06,702.03 240.92,702.03 241.79,702.02 242.66,702.01 243.52,702.01 244.39,702 245.26,701.99 246.13,701.98 246.99,701.97 247.86,701.96 248.73,701.96 249.59,701.95 250.46,701.94 251.33,701.93 252.19,701.93 253.06,701.92 253.93,701.91 254.8,701.91 255.66,701.9 256.53,701.9 257.4,701.89 258.26,701.89 259.13,701.89 260,701.89 260.86,701.89 261.73,701.89 262.6,701.89 263.47,701.89 264.33,701.89 265.2,701.9 266.07,701.9 266.93,701.9 267.8,701.91 268.67,701.92 269.54,701.92 270.4,701.93 271.27,701.94 272.14,701.94 273,701.95 273.87,701.96 274.74,701.97 275.6,701.98 276.47,701.99 277.34,701.99 278.21,702 279.07,702.01 279.94,702.02 280.81,702.02 281.67,702.03 282.54,702.04 283.41,702.04 284.27,702.05 285.14,702.05 286.01,702.05 286.88,702.05 287.74,702.06 288.61,702.06 289.48,702.06 290.34,702.06 291.21,702.05 292.08,702.05 292.94,702.05 293.81,702.04 294.68,702.04 295.55,702.03 296.41,702.03 297.28,702.02 298.15,702.01 299.01,702.01 299.88,702 300.75,701.99 301.62,701.98 302.48,701.97 303.35,701.97 304.22,701.96 305.08,701.95 305.95,701.94 306.82,701.93 307.68,701.93 308.55,701.92 309.42,701.91 310.29,701.91 311.15,701.9 312.02,701.9 312.89,701.89 313.75,701.89 314.62,701.89 315.49,701.89 316.35,701.89 317.22,701.89 318.09,701.89 318.96,701.89 319.82,701.89 320.69,701.89" stroke="#ff0000" stroke-width="2.2" fill="none" stroke-linejoin="round" stroke-dasharray="9 8.7"/>
</g>
<text x="54.8" y="745.3" text-anchor="middle">0</text>
<text x="143.43" y="745.3" text-anchor="middle">10</text>
<text x="232.06" y="745.3" text-anchor="middle">20</text>
<text x="320.69" y="745.3" text-anchor="middle">30</text>
<text x="48.3" y="707.8" text-anchor="end">0</text>
<text x="48.3" y="660.55" text-anchor="end">0.5</text>
<text x="48.3" y="613.3" text-anchor="end">1</text>
<text x="48.3" y="566.05" text-anchor="end">1.5</text>
<text x="48.3" y="518.8" text-anchor="end">2</text>
<text x="48.3" y="471.55" text-anchor="end">2.5</text>
<text x="48.3" y="424.3" text-anchor="end">3</text>
<text x="187.75" y="764.8" text-anchor="middle" font-family='"Liberation Serif", serif' font-size="15.9" fill="#262626">Time(s)</text>
<text transform="translate(13,562.45) rotate(-90)" text-anchor="middle" font-family='"Liberation Serif", serif' font-size="15.7" fill="#262626">U<tspan font-size="11.5" dy="7.3">3</tspan><tspan dy="-7.3">(N·m)</tspan></text>
<rect x="182.7" y="413.8" width="126.3" height="68.6" fill="#fff" stroke="#262626" stroke-width="0.8"/>
<path d="M187 424.2H232.7" stroke="#00ee00" stroke-width="2.3"/>
<text x="236.9" y="429.2" font-family='"Liberation Serif", serif' font-size="14.2" letter-spacing="0.05" fill="#000">Controller 1</text>
<path d="M187 440.4H232.7" stroke="#ff00ff" stroke-width="2.3"/>
<text x="236.9" y="445.4" font-family='"Liberation Serif", serif' font-size="14.2" letter-spacing="0.05" fill="#000">Controller 2</text>
<path d="M187 456.6H232.7" stroke="#00ffff" stroke-width="2.3"/>
<text x="236.9" y="461.6" font-family='"Liberation Serif", serif' font-size="14.2" letter-spacing="0.05" fill="#000">Controller 3</text>
<path d="M187 472.8H232.7" stroke="#ff0000" stroke-width="2.3" stroke-dasharray="9.2 8.5"/>
<text x="236.9" y="477.8" font-family='"Liberation Serif", serif' font-size="14.2" letter-spacing="0.05" fill="#000">Controller 4</text>
<rect x="52.4" y="688.3" width="213.3" height="24.7" fill="none" stroke="#3a3a3a" stroke-width="0.9"/>
<clipPath id="c7"><rect x="112.4" y="495.8" width="193" height="105.7"/></clipPath>
<rect x="113.5" y="496.9" width="190.8" height="103.5" fill="#fff"/>
<path d="M190.15 600.4V496.9M266.8 600.4V496.9" stroke="#d6d6d6" stroke-width="0.9" stroke-dasharray="3 3" fill="none"/>
<path d="M113.5 557.3H304.3M113.5 514.15H304.3" stroke="#d6d6d6" stroke-width="0.9" stroke-dasharray="3 3" stroke-dashoffset="2.2" fill="none"/>
<path d="M113.5 600.4v-2.1M113.5 496.9v2.1M190.15 600.4v-2.1M190.15 496.9v2.1M266.8 600.4v-2.1M266.8 496.9v2.1M113.5 600.45h2.1M304.3 600.45h-2.1M113.5 557.3h2.1M304.3 557.3h-2.1M113.5 514.15h2.1M304.3 514.15h-2.1" stroke="#262626" stroke-width="0.8" fill="none"/>
<rect x="113.5" y="496.9" width="190.8" height="103.5" stroke="#262626" stroke-width="0.8" fill="none"/>
<g clip-path="url(#c7)">
<polyline points="118.1,581.46 118.71,558.16 119.25,557.71 120,557.75 120.75,557.77 121.5,557.8 122.25,557.81 123,557.82 123.75,557.82 124.5,557.81 125.25,557.79 126,557.77 126.75,557.74 127.5,557.7 128.25,557.66 129,557.61 129.75,557.56 130.5,557.5 131.25,557.44 132,557.37 132.75,557.3 133.5,557.23 134.25,557.15 135,557.08 135.75,557 136.5,556.93 137.24,556.85 137.99,556.78 138.74,556.71 139.49,556.64 140.24,556.58 140.99,556.52 141.74,556.47 142.49,556.42 143.24,556.38 143.99,556.34 144.74,556.31 145.49,556.29 146.24,556.27 146.99,556.27 147.74,556.27 148.49,556.27 149.24,556.29 149.99,556.31 150.74,556.34 151.49,556.37 152.24,556.42 152.99,556.46 153.74,556.52 154.49,556.57 155.24,556.64 155.99,556.7 156.74,556.77 157.49,556.85 158.24,556.92 158.99,557 159.74,557.07 160.49,557.15 161.24,557.22 161.99,557.3 162.74,557.37 163.49,557.43 164.24,557.5 164.99,557.56 165.74,557.61 166.49,557.66 167.24,557.7 167.99,557.74 168.74,557.77 169.49,557.79 170.24,557.81 170.99,557.82 171.74,557.82 172.49,557.81 173.24,557.8 173.99,557.78 174.74,557.75 175.49,557.71 176.24,557.67 176.99,557.62 177.74,557.57 178.49,557.51 179.24,557.45 179.99,557.39 180.74,557.32 181.49,557.24 182.24,557.17 182.98,557.09 183.73,557.02 184.48,556.94 185.23,556.87 185.98,556.79 186.73,556.72 187.48,556.66 188.23,556.59 188.98,556.53 189.73,556.48 190.48,556.43 191.23,556.38 191.98,556.35 192.73,556.32 193.48,556.29 194.23,556.28 194.98,556.27 195.73,556.26 196.48,556.27 197.23,556.28 197.98,556.3 198.73,556.33 199.48,556.36 200.23,556.41 200.98,556.45 201.73,556.5 202.48,556.56 203.23,556.62 203.98,556.69 204.73,556.76 205.48,556.83 206.23,556.9 206.98,556.98 207.73,557.06 208.48,557.13 209.23,557.21 209.98,557.28 210.73,557.35 211.48,557.42 212.23,557.48 212.98,557.54 213.73,557.6 214.48,557.65 215.23,557.69 215.98,557.73 216.73,557.76 217.48,557.79 218.23,557.8 218.98,557.82 219.73,557.82 220.48,557.81 221.23,557.8 221.98,557.78 222.73,557.76 223.48,557.72 224.23,557.68 224.98,557.64 225.73,557.58 226.48,557.53 227.23,557.47 227.98,557.4 228.72,557.33 229.47,557.26 230.22,557.19 230.97,557.11 231.72,557.04 232.47,556.96 233.22,556.88 233.97,556.81 234.72,556.74 235.47,556.67 236.22,556.61 236.97,556.55 237.72,556.49 238.47,556.44 239.22,556.39 239.97,556.35 240.72,556.32 241.47,556.3 242.22,556.28 242.97,556.27 243.72,556.26 244.47,556.27 245.22,556.28 245.97,556.3 246.72,556.32 247.47,556.36 248.22,556.4 248.97,556.44 249.72,556.49 250.47,556.55 251.22,556.61 251.97,556.67 252.72,556.74 253.47,556.81 254.22,556.89 254.97,556.96 255.72,557.04 256.47,557.11 257.22,557.19 257.97,557.26 258.72,557.33 259.47,557.4 260.22,557.47 260.97,557.53 261.72,557.59 262.47,557.64 263.22,557.68 263.97,557.72 264.72,557.76 265.47,557.78 266.22,557.8 266.97,557.81 267.72,557.82 268.47,557.81 269.22,557.8 269.97,557.79 270.72,557.76 271.47,557.73 272.22,557.69 272.97,557.65 273.72,557.6 274.47,557.54 275.21,557.48 275.96,557.42 276.71,557.35 277.46,557.28 278.21,557.2 278.96,557.13 279.71,557.05 280.46,556.98 281.21,556.9 281.96,556.83 282.71,556.76 283.46,556.69 284.21,556.62 284.96,556.56 285.71,556.5 286.46,556.45 287.21,556.4 287.96,556.36 288.71,556.33 289.46,556.3 290.21,556.28 290.96,556.27 291.71,556.26 292.46,556.27 293.21,556.28 293.96,556.29 294.71,556.32 295.46,556.35 296.21,556.39 296.96,556.43 297.71,556.48 298.46,556.53 299.21,556.59 299.96,556.66 300.71,556.73 301.46,556.8 302.21,556.87 302.96,556.95 303.71,557.02 304.46,557.1 305.21,557.17 305.96,557.25 306.71,557.32 307.46,557.39 308.21,557.45 308.96,557.52 309.71,557.57 310.46,557.63 311.21,557.67 311.96,557.71 312.71,557.75 313.46,557.78 314.21,557.8 314.96,557.81 315.71,557.82 316.46,557.82 317.21,557.81 317.96,557.79 318.71,557.77 319.46,557.74 320.21,557.7 320.95,557.66 321.7,557.61 322.45,557.55 323.2,557.49 323.95,557.43 324.7,557.36 325.45,557.29 326.2,557.22 326.95,557.15 327.7,557.07 328.45,556.99 329.2,556.92 329.95,556.84 330.7,556.77 331.45,556.7 332.2,556.64 332.95,556.57 333.7,556.51 334.45,556.46 335.2,556.41 335.95,556.37 336.7,556.34 337.45,556.31 338.2,556.29 338.95,556.27 339.7,556.27 340.45,556.27 341.2,556.27 341.95,556.29 342.7,556.31 343.45,556.34" stroke="#00ee00" stroke-width="2.2" fill="none" stroke-linejoin="round"/>
<polyline points="117.33,583.19 118.79,581.46 119.02,559.03 119.25,557.71 120,557.75 120.75,557.77 121.5,557.8 122.25,557.81 123,557.82 123.75,557.82 124.5,557.81 125.25,557.79 126,557.77 126.75,557.74 127.5,557.7 128.25,557.66 129,557.61 129.75,557.56 130.5,557.5 131.25,557.44 132,557.37 132.75,557.3 133.5,557.23 134.25,557.15 135,557.08 135.75,557 136.5,556.93 137.24,556.85 137.99,556.78 138.74,556.71 139.49,556.64 140.24,556.58 140.99,556.52 141.74,556.47 142.49,556.42 143.24,556.38 143.99,556.34 144.74,556.31 145.49,556.29 146.24,556.27 146.99,556.27 147.74,556.27 148.49,556.27 149.24,556.29 149.99,556.31 150.74,556.34 151.49,556.37 152.24,556.42 152.99,556.46 153.74,556.52 154.49,556.57 155.24,556.64 155.99,556.7 156.74,556.77 157.49,556.85 158.24,556.92 158.99,557 159.74,557.07 160.49,557.15 161.24,557.22 161.99,557.3 162.74,557.37 163.49,557.43 164.24,557.5 164.99,557.56 165.74,557.61 166.49,557.66 167.24,557.7 167.99,557.74 168.74,557.77 169.49,557.79 170.24,557.81 170.99,557.82 171.74,557.82 172.49,557.81 173.24,557.8 173.99,557.78 174.74,557.75 175.49,557.71 176.24,557.67 176.99,557.62 177.74,557.57 178.49,557.51 179.24,557.45 179.99,557.39 180.74,557.32 181.49,557.24 182.24,557.17 182.98,557.09 183.73,557.02 184.48,556.94 185.23,556.87 185.98,556.79 186.73,556.72 187.48,556.66 188.23,556.59 188.98,556.53 189.73,556.48 190.48,556.43 191.23,556.38 191.98,556.35 192.73,556.32 193.48,556.29 194.23,556.28 194.98,556.27 195.73,556.26 196.48,556.27 197.23,556.28 197.98,556.3 198.73,556.33 199.48,556.36 200.23,556.41 200.98,556.45 201.73,556.5 202.48,556.56 203.23,556.62 203.98,556.69 204.73,556.76 205.48,556.83 206.23,556.9 206.98,556.98 207.73,557.06 208.48,557.13 209.23,557.21 209.98,557.28 210.73,557.35 211.48,557.42 212.23,557.48 212.98,557.54 213.73,557.6 214.48,557.65 215.23,557.69 215.98,557.73 216.73,557.76 217.48,557.79 218.23,557.8 218.98,557.82 219.73,557.82 220.48,557.81 221.23,557.8 221.98,557.78 222.73,557.76 223.48,557.72 224.23,557.68 224.98,557.64 225.73,557.58 226.48,557.53 227.23,557.47 227.98,557.4 228.72,557.33 229.47,557.26 230.22,557.19 230.97,557.11 231.72,557.04 232.47,556.96 233.22,556.88 233.97,556.81 234.72,556.74 235.47,556.67 236.22,556.61 236.97,556.55 237.72,556.49 238.47,556.44 239.22,556.39 239.97,556.35 240.72,556.32 241.47,556.3 242.22,556.28 242.97,556.27 243.72,556.26 244.47,556.27 245.22,556.28 245.97,556.3 246.72,556.32 247.47,556.36 248.22,556.4 248.97,556.44 249.72,556.49 250.47,556.55 251.22,556.61 251.97,556.67 252.72,556.74 253.47,556.81 254.22,556.89 254.97,556.96 255.72,557.04 256.47,557.11 257.22,557.19 257.97,557.26 258.72,557.33 259.47,557.4 260.22,557.47 260.97,557.53 261.72,557.59 262.47,557.64 263.22,557.68 263.97,557.72 264.72,557.76 265.47,557.78 266.22,557.8 266.97,557.81 267.72,557.82 268.47,557.81 269.22,557.8 269.97,557.79 270.72,557.76 271.47,557.73 272.22,557.69 272.97,557.65 273.72,557.6 274.47,557.54 275.21,557.48 275.96,557.42 276.71,557.35 277.46,557.28 278.21,557.2 278.96,557.13 279.71,557.05 280.46,556.98 281.21,556.9 281.96,556.83 282.71,556.76 283.46,556.69 284.21,556.62 284.96,556.56 285.71,556.5 286.46,556.45 287.21,556.4 287.96,556.36 288.71,556.33 289.46,556.3 290.21,556.28 290.96,556.27 291.71,556.26 292.46,556.27 293.21,556.28 293.96,556.29 294.71,556.32 295.46,556.35 296.21,556.39 296.96,556.43 297.71,556.48 298.46,556.53 299.21,556.59 299.96,556.66 300.71,556.73 301.46,556.8 302.21,556.87 302.96,556.95 303.71,557.02 304.46,557.1 305.21,557.17 305.96,557.25 306.71,557.32 307.46,557.39 308.21,557.45 308.96,557.52 309.71,557.57 310.46,557.63 311.21,557.67 311.96,557.71 312.71,557.75 313.46,557.78 314.21,557.8 314.96,557.81 315.71,557.82 316.46,557.82 317.21,557.81 317.96,557.79 318.71,557.77 319.46,557.74 320.21,557.7 320.95,557.66 321.7,557.61 322.45,557.55 323.2,557.49 323.95,557.43 324.7,557.36 325.45,557.29 326.2,557.22 326.95,557.15 327.7,557.07 328.45,556.99 329.2,556.92 329.95,556.84 330.7,556.77 331.45,556.7 332.2,556.64 332.95,556.57 333.7,556.51 334.45,556.46 335.2,556.41 335.95,556.37 336.7,556.34 337.45,556.31 338.2,556.29 338.95,556.27 339.7,556.27 340.45,556.27 341.2,556.27 341.95,556.29 342.7,556.31 343.45,556.34" stroke="#ff00ff" stroke-width="2.2" fill="none" stroke-linejoin="round"/>
<path d="M167.16 540.04V573.7M167.92 535.72V571.97M168.69 540.04V573.7M168.99 523.64V573.7M213.14 548.67V580.6M235.37 542.63V579.74M244.95 542.63V570.25M246.49 544.35V573.7M248.02 542.63V567.66M249.55 542.63V573.7M250.7 542.63V574.56M279.83 544.35V574.56M281.36 545.22V578.88M282.9 544.35V578.88M284.81 546.94V578.88M295.93 533.14V565.07M312.02 548.67V565.93M314.32 548.67V567.66M324.29 504.66V573.7" stroke="#ff00ff" stroke-width="2.0" fill="none" stroke-linecap="round"/>
<polyline points="113.5,557.3 113.65,-2290.6 113.96,816.2 114.65,553.85 115.42,729.9 116.18,555.57 116.95,643.6 117.33,557.3 119.25,557.71 120,557.75 120.75,557.77 121.5,557.8 122.25,557.81 123,557.82 123.75,557.82 124.5,557.81 125.25,557.79 126,557.77 126.75,557.74 127.5,557.7 128.25,557.66 129,557.61 129.75,557.56 130.5,557.5 131.25,557.44 132,557.37 132.75,557.3 133.5,557.23 134.25,557.15 135,557.08 135.75,557 136.5,556.93 137.24,556.85 137.99,556.78 138.74,556.71 139.49,556.64 140.24,556.58 140.99,556.52 141.74,556.47 142.49,556.42 143.24,556.38 143.99,556.34 144.74,556.31 145.49,556.29 146.24,556.27 146.99,556.27 147.74,556.27 148.49,556.27 149.24,556.29 149.99,556.31 150.74,556.34 151.49,556.37 152.24,556.42 152.99,556.46 153.74,556.52 154.49,556.57 155.24,556.64 155.99,556.7 156.74,556.77 157.49,556.85 158.24,556.92 158.99,557 159.74,557.07 160.49,557.15 161.24,557.22 161.99,557.3 162.74,557.37 163.49,557.43 164.24,557.5 164.99,557.56 165.74,557.61 166.49,557.66 167.24,557.7 167.99,557.74 168.74,557.77 169.49,557.79 170.24,557.81 170.99,557.82 171.74,557.82 172.49,557.81 173.24,557.8 173.99,557.78 174.74,557.75 175.49,557.71 176.24,557.67 176.99,557.62 177.74,557.57 178.49,557.51 179.24,557.45 179.99,557.39 180.74,557.32 181.49,557.24 182.24,557.17 182.98,557.09 183.73,557.02 184.48,556.94 185.23,556.87 185.98,556.79 186.73,556.72 187.48,556.66 188.23,556.59 188.98,556.53 189.73,556.48 190.48,556.43 191.23,556.38 191.98,556.35 192.73,556.32 193.48,556.29 194.23,556.28 194.98,556.27 195.73,556.26 196.48,556.27 197.23,556.28 197.98,556.3 198.73,556.33 199.48,556.36 200.23,556.41 200.98,556.45 201.73,556.5 202.48,556.56 203.23,556.62 203.98,556.69 204.73,556.76 205.48,556.83 206.23,556.9 206.98,556.98 207.73,557.06 208.48,557.13 209.23,557.21 209.98,557.28 210.73,557.35 211.48,557.42 212.23,557.48 212.98,557.54 213.73,557.6 214.48,557.65 215.23,557.69 215.98,557.73 216.73,557.76 217.48,557.79 218.23,557.8 218.98,557.82 219.73,557.82 220.48,557.81 221.23,557.8 221.98,557.78 222.73,557.76 223.48,557.72 224.23,557.68 224.98,557.64 225.73,557.58 226.48,557.53 227.23,557.47 227.98,557.4 228.72,557.33 229.47,557.26 230.22,557.19 230.97,557.11 231.72,557.04 232.47,556.96 233.22,556.88 233.97,556.81 234.72,556.74 235.47,556.67 236.22,556.61 236.97,556.55 237.72,556.49 238.47,556.44 239.22,556.39 239.97,556.35 240.72,556.32 241.47,556.3 242.22,556.28 242.97,556.27 243.72,556.26 244.47,556.27 245.22,556.28 245.97,556.3 246.72,556.32 247.47,556.36 248.22,556.4 248.97,556.44 249.72,556.49 250.47,556.55 251.22,556.61 251.97,556.67 252.72,556.74 253.47,556.81 254.22,556.89 254.97,556.96 255.72,557.04 256.47,557.11 257.22,557.19 257.97,557.26 258.72,557.33 259.47,557.4 260.22,557.47 260.97,557.53 261.72,557.59 262.47,557.64 263.22,557.68 263.97,557.72 264.72,557.76 265.47,557.78 266.22,557.8 266.97,557.81 267.72,557.82 268.47,557.81 269.22,557.8 269.97,557.79 270.72,557.76 271.47,557.73 272.22,557.69 272.97,557.65 273.72,557.6 274.47,557.54 275.21,557.48 275.96,557.42 276.71,557.35 277.46,557.28 278.21,557.2 278.96,557.13 279.71,557.05 280.46,556.98 281.21,556.9 281.96,556.83 282.71,556.76 283.46,556.69 284.21,556.62 284.96,556.56 285.71,556.5 286.46,556.45 287.21,556.4 287.96,556.36 288.71,556.33 289.46,556.3 290.21,556.28 290.96,556.27 291.71,556.26 292.46,556.27 293.21,556.28 293.96,556.29 294.71,556.32 295.46,556.35 296.21,556.39 296.96,556.43 297.71,556.48 298.46,556.53 299.21,556.59 299.96,556.66 300.71,556.73 301.46,556.8 302.21,556.87 302.96,556.95 303.71,557.02 304.46,557.1 305.21,557.17 305.96,557.25 306.71,557.32 307.46,557.39 308.21,557.45 308.96,557.52 309.71,557.57 310.46,557.63 311.21,557.67 311.96,557.71 312.71,557.75 313.46,557.78 314.21,557.8 314.96,557.81 315.71,557.82 316.46,557.82 317.21,557.81 317.96,557.79 318.71,557.77 319.46,557.74 320.21,557.7 320.95,557.66 321.7,557.61 322.45,557.55 323.2,557.49 323.95,557.43 324.7,557.36 325.45,557.29 326.2,557.22 326.95,557.15 327.7,557.07 328.45,556.99 329.2,556.92 329.95,556.84 330.7,556.77 331.45,556.7 332.2,556.64 332.95,556.57 333.7,556.51 334.45,556.46 335.2,556.41 335.95,556.37 336.7,556.34 337.45,556.31 338.2,556.29 338.95,556.27 339.7,556.27 340.45,556.27 341.2,556.27 341.95,556.29 342.7,556.31 343.45,556.34" stroke="#00ffff" stroke-width="2.2" fill="none" stroke-linejoin="round"/>
<polyline points="113.5,-461.04 113.73,587.5 117.95,581.46 118.25,596.13 118.41,574.56 118.64,558.16 119.02,557.3 119.25,557.71 120,557.75 120.75,557.77 121.5,557.8 122.25,557.81 123,557.82 123.75,557.82 124.5,557.81 125.25,557.79 126,557.77 126.75,557.74 127.5,557.7 128.25,557.66 129,557.61 129.75,557.56 130.5,557.5 131.25,557.44 132,557.37 132.75,557.3 133.5,557.23 134.25,557.15 135,557.08 135.75,557 136.5,556.93 137.24,556.85 137.99,556.78 138.74,556.71 139.49,556.64 140.24,556.58 140.99,556.52 141.74,556.47 142.49,556.42 143.24,556.38 143.99,556.34 144.74,556.31 145.49,556.29 146.24,556.27 146.99,556.27 147.74,556.27 148.49,556.27 149.24,556.29 149.99,556.31 150.74,556.34 151.49,556.37 152.24,556.42 152.99,556.46 153.74,556.52 154.49,556.57 155.24,556.64 155.99,556.7 156.74,556.77 157.49,556.85 158.24,556.92 158.99,557 159.74,557.07 160.49,557.15 161.24,557.22 161.99,557.3 162.74,557.37 163.49,557.43 164.24,557.5 164.99,557.56 165.74,557.61 166.49,557.66 167.24,557.7 167.99,557.74 168.74,557.77 169.49,557.79 170.24,557.81 170.99,557.82 171.74,557.82 172.49,557.81 173.24,557.8 173.99,557.78 174.74,557.75 175.49,557.71 176.24,557.67 176.99,557.62 177.74,557.57 178.49,557.51 179.24,557.45 179.99,557.39 180.74,557.32 181.49,557.24 182.24,557.17 182.98,557.09 183.73,557.02 184.48,556.94 185.23,556.87 185.98,556.79 186.73,556.72 187.48,556.66 188.23,556.59 188.98,556.53 189.73,556.48 190.48,556.43 191.23,556.38 191.98,556.35 192.73,556.32 193.48,556.29 194.23,556.28 194.98,556.27 195.73,556.26 196.48,556.27 197.23,556.28 197.98,556.3 198.73,556.33 199.48,556.36 200.23,556.41 200.98,556.45 201.73,556.5 202.48,556.56 203.23,556.62 203.98,556.69 204.73,556.76 205.48,556.83 206.23,556.9 206.98,556.98 207.73,557.06 208.48,557.13 209.23,557.21 209.98,557.28 210.73,557.35 211.48,557.42 212.23,557.48 212.98,557.54 213.73,557.6 214.48,557.65 215.23,557.69 215.98,557.73 216.73,557.76 217.48,557.79 218.23,557.8 218.98,557.82 219.73,557.82 220.48,557.81 221.23,557.8 221.98,557.78 222.73,557.76 223.48,557.72 224.23,557.68 224.98,557.64 225.73,557.58 226.48,557.53 227.23,557.47 227.98,557.4 228.72,557.33 229.47,557.26 230.22,557.19 230.97,557.11 231.72,557.04 232.47,556.96 233.22,556.88 233.97,556.81 234.72,556.74 235.47,556.67 236.22,556.61 236.97,556.55 237.72,556.49 238.47,556.44 239.22,556.39 239.97,556.35 240.72,556.32 241.47,556.3 242.22,556.28 242.97,556.27 243.72,556.26 244.47,556.27 245.22,556.28 245.97,556.3 246.72,556.32 247.47,556.36 248.22,556.4 248.97,556.44 249.72,556.49 250.47,556.55 251.22,556.61 251.97,556.67 252.72,556.74 253.47,556.81 254.22,556.89 254.97,556.96 255.72,557.04 256.47,557.11 257.22,557.19 257.97,557.26 258.72,557.33 259.47,557.4 260.22,557.47 260.97,557.53 261.72,557.59 262.47,557.64 263.22,557.68 263.97,557.72 264.72,557.76 265.47,557.78 266.22,557.8 266.97,557.81 267.72,557.82 268.47,557.81 269.22,557.8 269.97,557.79 270.72,557.76 271.47,557.73 272.22,557.69 272.97,557.65 273.72,557.6 274.47,557.54 275.21,557.48 275.96,557.42 276.71,557.35 277.46,557.28 278.21,557.2 278.96,557.13 279.71,557.05 280.46,556.98 281.21,556.9 281.96,556.83 282.71,556.76 283.46,556.69 284.21,556.62 284.96,556.56 285.71,556.5 286.46,556.45 287.21,556.4 287.96,556.36 288.71,556.33 289.46,556.3 290.21,556.28 290.96,556.27 291.71,556.26 292.46,556.27 293.21,556.28 293.96,556.29 294.71,556.32 295.46,556.35 296.21,556.39 296.96,556.43 297.71,556.48 298.46,556.53 299.21,556.59 299.96,556.66 300.71,556.73 301.46,556.8 302.21,556.87 302.96,556.95 303.71,557.02 304.46,557.1 305.21,557.17 305.96,557.25 306.71,557.32 307.46,557.39 308.21,557.45 308.96,557.52 309.71,557.57 310.46,557.63 311.21,557.67 311.96,557.71 312.71,557.75 313.46,557.78 314.21,557.8 314.96,557.81 315.71,557.82 316.46,557.82 317.21,557.81 317.96,557.79 318.71,557.77 319.46,557.74 320.21,557.7 320.95,557.66 321.7,557.61 322.45,557.55 323.2,557.49 323.95,557.43 324.7,557.36 325.45,557.29 326.2,557.22 326.95,557.15 327.7,557.07 328.45,556.99 329.2,556.92 329.95,556.84 330.7,556.77 331.45,556.7 332.2,556.64 332.95,556.57 333.7,556.51 334.45,556.46 335.2,556.41 335.95,556.37 336.7,556.34 337.45,556.31 338.2,556.29 338.95,556.27 339.7,556.27 340.45,556.27 341.2,556.27 341.95,556.29 342.7,556.31 343.45,556.34" stroke="#ff0000" stroke-width="2.2" fill="none" stroke-linejoin="round" stroke-dasharray="9 8.7"/>
</g>
<text x="113.5" y="622.2" text-anchor="middle">0</text>
<text x="190.15" y="622.2" text-anchor="middle">10</text>
<text x="266.8" y="622.2" text-anchor="middle">20</text>
<text x="107" y="606.75" text-anchor="end">-0.05</text>
<text x="107" y="563.6" text-anchor="end">0</text>
<text x="107" y="520.45" text-anchor="end">0.05</text>
<path d="M122.5 687.8L156.9 620.4" stroke="#000" stroke-width="0.9"/>
<path d="M162.5 610.4L150.2 621.3L156.9 620.4L160.4 626.9Z" fill="#000"/>
<clipPath id="c4"><rect x="408.9" y="400.4" width="268.6" height="324.3"/></clipPath>
<rect x="410" y="401.5" width="266.4" height="322.1" fill="#fff"/>
<path d="M498.8 723.6V401.5M587.6 723.6V401.5" stroke="#d6d6d6" stroke-width="0.9" stroke-dasharray="3 3" fill="none"/>
<path d="M410 711.1H676.4M410 657.88H676.4M410 604.66H676.4M410 551.44H676.4M410 498.22H676.4M410 445H676.4" stroke="#d6d6d6" stroke-width="0.9" stroke-dasharray="3 3" stroke-dashoffset="2.2" fill="none"/>
<path d="M410 723.6v-3.2M410 401.5v3.2M498.8 723.6v-3.2M498.8 401.5v3.2M587.6 723.6v-3.2M587.6 401.5v3.2M676.4 723.6v-3.2M676.4 401.5v3.2M410 711.1h3.2M676.4 711.1h-3.2M410 657.88h3.2M676.4 657.88h-3.2M410 604.66h3.2M676.4 604.66h-3.2M410 551.44h3.2M676.4 551.44h-3.2M410 498.22h3.2M676.4 498.22h-3.2M410 445h3.2M676.4 445h-3.2" stroke="#262626" stroke-width="0.8" fill="none"/>
<rect x="410" y="401.5" width="266.4" height="322.1" stroke="#262626" stroke-width="0.8" fill="none"/>
<g clip-path="url(#c4)">
<polyline points="410,378.47 410.17,432.54 410.33,480 410.5,521.41 410.67,557.3 410.83,588.2 411,614.59 411.17,636.92 411.33,655.65 411.5,671.17 411.67,683.88 411.83,694.14 412,702.29 412.16,708.63 412.33,713.46 412.5,717.04 412.66,719.61 412.83,721.37 413,722.52 413.16,723.22 413.33,723.61 413.5,723.79 413.66,723.86 413.83,723.87 414,723.87 414.26,721.31 414.53,718.95 414.79,716.8 415.06,714.82 415.32,713 415.59,711.34 415.85,709.81 416.12,708.4 416.38,707.12 416.65,705.93 416.91,704.85 417.17,703.85 417.44,702.93 417.7,702.09 417.97,701.31 418.23,700.6 418.5,699.94 418.76,699.33 419.03,698.78 419.29,698.26 419.56,697.79 419.82,697.35 420.09,696.94 420.35,696.57 420.62,696.22 420.88,695.9 421.15,695.6 421.41,695.33 421.68,695.07 421.94,694.83 422.21,694.61 422.47,694.41 422.74,694.21 423,694.03 423.27,693.87 423.53,693.71 423.8,693.56 424.06,693.42 424.33,693.29 424.59,693.17 424.86,693.05 425.12,692.95 425.39,692.84 425.65,692.75 425.92,692.65 426.18,692.57 426.45,692.48 426.71,692.4 426.98,692.33 427.24,692.26 427.51,692.19 427.77,692.12 428.04,692.06 428.3,692 428.57,691.94 428.83,691.89 429.1,691.83 429.36,691.78 429.63,691.74 429.89,691.69 430.16,691.65 430.42,691.6 430.69,691.56 430.95,691.52 431.21,691.49 431.48,691.45 431.74,691.42 432.01,691.38 432.27,691.35 432.54,691.32 432.8,691.29 433.07,691.27 433.33,691.24 433.6,691.22 433.86,691.19 434.13,691.17 434.39,691.15 434.66,691.14 434.92,691.12 435.19,691.1 435.45,691.09 435.72,691.07 435.98,691.06 436.25,691.05 436.51,691.04 436.78,691.03 437.04,691.03 437.31,691.02 437.57,691.02 437.84,691.01 438.1,691.01 438.37,691.01 438.63,691.01 438.9,691.01 439.16,691.02 439.43,691.02 439.69,691.03 439.96,691.03 440.22,691.04 440.49,691.05 440.75,691.06 441.02,691.07 441.28,691.09 441.55,691.1 441.81,691.11 442.08,691.13 442.34,691.15 442.61,691.17 442.87,691.18 443.14,691.2 443.4,691.23 443.67,691.25 443.93,691.27 444.2,691.3 444.46,691.32 444.73,691.35 444.99,691.37 445.26,691.4 445.52,691.43 445.96,691.48 446.75,691.57 447.54,691.67 448.32,691.77 449.11,691.88 449.89,691.99 450.68,692.11 451.46,692.22 452.25,692.34 453.03,692.46 453.82,692.57 454.6,692.68 455.39,692.79 456.18,692.9 456.96,693 457.75,693.1 458.53,693.19 459.32,693.27 460.1,693.35 460.89,693.42 461.67,693.48 462.46,693.53 463.25,693.57 464.03,693.6 464.82,693.62 465.6,693.63 466.39,693.63 467.17,693.63 467.96,693.61 468.74,693.58 469.53,693.54 470.32,693.49 471.1,693.43 471.89,693.36 472.67,693.29 473.46,693.2 474.24,693.12 475.03,693.02 475.81,692.92 476.6,692.81 477.39,692.7 478.17,692.59 478.96,692.47 479.74,692.36 480.53,692.24 481.31,692.13 482.1,692.01 482.88,691.9 483.67,691.79 484.46,691.69 485.24,691.59 486.03,691.49 486.81,691.41 487.6,691.33 488.38,691.25 489.17,691.19 489.95,691.13 490.74,691.09 491.53,691.05 492.31,691.02 493.1,691.01 493.88,691 494.67,691.01 495.45,691.02 496.24,691.04 497.02,691.08 497.81,691.12 498.6,691.18 499.38,691.24 500.17,691.31 500.95,691.39 501.74,691.48 502.52,691.57 503.31,691.67 504.09,691.77 504.88,691.88 505.66,691.99 506.45,692.1 507.24,692.22 508.02,692.34 508.81,692.45 509.59,692.57 510.38,692.68 511.16,692.79 511.95,692.9 512.73,693 513.52,693.1 514.31,693.19 515.09,693.27 515.88,693.35 516.66,693.42 517.45,693.48 518.23,693.53 519.02,693.57 519.8,693.6 520.59,693.62 521.38,693.63 522.16,693.64 522.95,693.63 523.73,693.61 524.52,693.58 525.3,693.54 526.09,693.49 526.87,693.43 527.66,693.36 528.45,693.29 529.23,693.21 530.02,693.12 530.8,693.02 531.59,692.92 532.37,692.82 533.16,692.71 533.94,692.59 534.73,692.48 535.52,692.36 536.3,692.25 537.09,692.13 537.87,692.01 538.66,691.9 539.44,691.79 540.23,691.69 541.01,691.59 541.8,691.5 542.59,691.41 543.37,691.33 544.16,691.25 544.94,691.19 545.73,691.13 546.51,691.09 547.3,691.05 548.08,691.02 548.87,691.01 549.66,691 550.44,691.01 551.23,691.02 552.01,691.04 552.8,691.08 553.58,691.12 554.37,691.18 555.15,691.24 555.94,691.31 556.72,691.39 557.51,691.47 558.3,691.57 559.08,691.66 559.87,691.77 560.65,691.88 561.44,691.99 562.22,692.1 563.01,692.22 563.79,692.33 564.58,692.45 565.37,692.56 566.15,692.68 566.94,692.79 567.72,692.89 568.51,693 569.29,693.09 570.08,693.19 570.86,693.27 571.65,693.35 572.44,693.42 573.22,693.48 574.01,693.53 574.79,693.57 575.58,693.6 576.36,693.62 577.15,693.63 577.93,693.64 578.72,693.63 579.51,693.61 580.29,693.58 581.08,693.54 581.86,693.49 582.65,693.43 583.43,693.37 584.22,693.29 585,693.21 585.79,693.12 586.58,693.02 587.36,692.92 588.15,692.82 588.93,692.71 589.72,692.6 590.5,692.48 591.29,692.36 592.07,692.25 592.86,692.13 593.65,692.02 594.43,691.91 595.22,691.8 596,691.69 596.79,691.59 597.57,691.5 598.36,691.41 599.14,691.33 599.93,691.26 600.72,691.19 601.5,691.14 602.29,691.09 603.07,691.05 603.86,691.03 604.64,691.01 605.43,691 606.21,691.01 607,691.02 607.78,691.04 608.57,691.08 609.36,691.12 610.14,691.17 610.93,691.24 611.71,691.31 612.5,691.38 613.28,691.47 614.07,691.56 614.85,691.66 615.64,691.76 616.43,691.87 617.21,691.98 618,692.1 618.78,692.21 619.57,692.33 620.35,692.45 621.14,692.56 621.92,692.67 622.71,692.79 623.5,692.89 624.28,692.99 625.07,693.09 625.85,693.18 626.64,693.27 627.42,693.34 628.21,693.41 628.99,693.47 629.78,693.53 630.57,693.57 631.35,693.6 632.14,693.62 632.92,693.63 633.71,693.64 634.49,693.63 635.28,693.61 636.06,693.58 636.85,693.54 637.64,693.49 638.42,693.43 639.21,693.37 639.99,693.29 640.78,693.21 641.56,693.12 642.35,693.03 643.13,692.93 643.92,692.82 644.71,692.71 645.49,692.6 646.28,692.48 647.06,692.37 647.85,692.25 648.63,692.14 649.42,692.02 650.2,691.91 650.99,691.8 651.78,691.69 652.56,691.59 653.35,691.5 654.13,691.41 654.92,691.33 655.7,691.26 656.49,691.19 657.27,691.14 658.06,691.09 658.84,691.05 659.63,691.03 660.42,691.01 661.2,691 661.99,691 662.77,691.02 663.56,691.04 664.34,691.08 665.13,691.12 665.91,691.17 666.7,691.23 667.49,691.3 668.27,691.38 669.06,691.47 669.84,691.56 670.63,691.66 671.41,691.76 672.2,691.87 672.98,691.98 673.77,692.09 674.56,692.21 675.34,692.33 676.13,692.44 676.91,692.56 677.7,692.67 678.48,692.78 679.27,692.89 680.05,692.99 680.84,693.09" stroke="#00ee00" stroke-width="2.2" fill="none" stroke-linejoin="round"/>
<polyline points="410,378.47 410.17,432.54 410.33,480 410.5,521.41 410.67,557.3 410.83,588.2 411,614.59 411.17,636.92 411.33,655.65 411.5,671.17 411.67,683.88 411.83,694.14 412,702.29 412.16,708.63 412.33,713.46 412.5,717.04 412.66,719.61 412.83,721.37 413,722.52 413.16,723.22 413.33,723.61 413.5,723.79 413.66,723.86 413.83,723.87 414,723.87 414.26,721.45 414.53,719.21 414.79,717.15 415.06,715.25 415.32,713.5 415.59,711.88 415.85,710.39 416.12,709.02 416.38,707.75 416.65,706.58 416.91,705.5 417.17,704.51 417.44,703.59 417.7,702.74 417.97,701.95 418.23,701.23 418.5,700.56 418.76,699.94 419.03,699.36 419.29,698.83 419.56,698.33 419.82,697.88 420.09,697.45 420.35,697.06 420.62,696.69 420.88,696.35 421.15,696.04 421.41,695.74 421.68,695.47 421.94,695.21 422.21,694.97 422.47,694.75 422.74,694.54 423,694.34 423.27,694.16 423.53,693.99 423.8,693.83 424.06,693.67 424.33,693.53 424.59,693.4 424.86,693.27 425.12,693.15 425.39,693.03 425.65,692.93 425.92,692.83 426.18,692.73 426.45,692.64 426.71,692.55 426.98,692.47 427.24,692.39 427.51,692.31 427.77,692.24 428.04,692.17 428.3,692.1 428.57,692.04 428.83,691.98 429.1,691.92 429.36,691.87 429.63,691.81 429.89,691.76 430.16,691.71 430.42,691.67 430.69,691.62 430.95,691.58 431.21,691.54 431.48,691.5 431.74,691.46 432.01,691.43 432.27,691.39 432.54,691.36 432.8,691.33 433.07,691.3 433.33,691.27 433.6,691.24 433.86,691.22 434.13,691.2 434.39,691.17 434.66,691.15 434.92,691.13 435.19,691.12 435.45,691.1 435.72,691.09 435.98,691.07 436.25,691.06 436.51,691.05 436.78,691.04 437.04,691.03 437.31,691.02 437.57,691.02 437.84,691.01 438.1,691.01 438.37,691.01 438.63,691.01 438.9,691.01 439.16,691.01 439.43,691.01 439.69,691.02 439.96,691.02 440.22,691.03 440.49,691.04 440.75,691.05 441.02,691.06 441.28,691.07 441.55,691.08 441.81,691.1 442.08,691.11 442.34,691.13 442.61,691.15 442.87,691.17 443.14,691.19 443.4,691.21 443.67,691.23 443.93,691.25 444.2,691.27 444.46,691.3 444.73,691.32 444.99,691.35 445.26,691.38 445.52,691.41 445.96,691.46 446.75,691.55 447.54,691.65 448.32,691.75 449.11,691.86 449.89,691.97 450.68,692.08 451.46,692.2 452.25,692.32 453.03,692.44 453.82,692.55 454.6,692.67 455.39,692.78 456.18,692.89 456.96,692.99 457.75,693.09 458.53,693.18 459.32,693.27 460.1,693.35 460.89,693.42 461.67,693.48 462.46,693.54 463.25,693.58 464.03,693.61 464.82,693.64 465.6,693.65 466.39,693.65 467.17,693.65 467.96,693.63 468.74,693.6 469.53,693.56 470.32,693.52 471.1,693.46 471.89,693.39 472.67,693.32 473.46,693.24 474.24,693.15 475.03,693.05 475.81,692.95 476.6,692.85 477.39,692.74 478.17,692.62 478.96,692.51 479.74,692.39 480.53,692.27 481.31,692.16 482.1,692.04 482.88,691.93 483.67,691.82 484.46,691.71 485.24,691.61 486.03,691.51 486.81,691.42 487.6,691.34 488.38,691.26 489.17,691.2 489.95,691.14 490.74,691.09 491.53,691.05 492.31,691.02 493.1,691 493.88,690.99 494.67,691 495.45,691.01 496.24,691.03 497.02,691.06 497.81,691.11 498.6,691.16 499.38,691.22 500.17,691.29 500.95,691.37 501.74,691.45 502.52,691.54 503.31,691.64 504.09,691.75 504.88,691.85 505.66,691.97 506.45,692.08 507.24,692.2 508.02,692.31 508.81,692.43 509.59,692.55 510.38,692.66 511.16,692.78 511.95,692.88 512.73,692.99 513.52,693.09 514.31,693.18 515.09,693.27 515.88,693.35 516.66,693.42 517.45,693.48 518.23,693.53 519.02,693.58 519.8,693.61 520.59,693.64 521.38,693.65 522.16,693.65 522.95,693.65 523.73,693.63 524.52,693.6 525.3,693.57 526.09,693.52 526.87,693.46 527.66,693.4 528.45,693.32 529.23,693.24 530.02,693.15 530.8,693.06 531.59,692.96 532.37,692.85 533.16,692.74 533.94,692.63 534.73,692.51 535.52,692.39 536.3,692.28 537.09,692.16 537.87,692.04 538.66,691.93 539.44,691.82 540.23,691.71 541.01,691.61 541.8,691.51 542.59,691.42 543.37,691.34 544.16,691.27 544.94,691.2 545.73,691.14 546.51,691.09 547.3,691.05 548.08,691.02 548.87,691 549.66,690.99 550.44,691 551.23,691.01 552.01,691.03 552.8,691.06 553.58,691.1 554.37,691.16 555.15,691.22 555.94,691.29 556.72,691.36 557.51,691.45 558.3,691.54 559.08,691.64 559.87,691.74 560.65,691.85 561.44,691.96 562.22,692.08 563.01,692.19 563.79,692.31 564.58,692.43 565.37,692.55 566.15,692.66 566.94,692.77 567.72,692.88 568.51,692.99 569.29,693.09 570.08,693.18 570.86,693.27 571.65,693.35 572.44,693.42 573.22,693.48 574.01,693.53 574.79,693.58 575.58,693.61 576.36,693.64 577.15,693.65 577.93,693.65 578.72,693.65 579.51,693.63 580.29,693.6 581.08,693.57 581.86,693.52 582.65,693.46 583.43,693.4 584.22,693.32 585,693.24 585.79,693.15 586.58,693.06 587.36,692.96 588.15,692.85 588.93,692.74 589.72,692.63 590.5,692.51 591.29,692.4 592.07,692.28 592.86,692.16 593.65,692.05 594.43,691.93 595.22,691.82 596,691.71 596.79,691.61 597.57,691.52 598.36,691.43 599.14,691.34 599.93,691.27 600.72,691.2 601.5,691.14 602.29,691.09 603.07,691.05 603.86,691.02 604.64,691 605.43,690.99 606.21,691 607,691.01 607.78,691.03 608.57,691.06 609.36,691.1 610.14,691.15 610.93,691.22 611.71,691.28 612.5,691.36 613.28,691.45 614.07,691.54 614.85,691.64 615.64,691.74 616.43,691.85 617.21,691.96 618,692.07 618.78,692.19 619.57,692.31 620.35,692.43 621.14,692.54 621.92,692.66 622.71,692.77 623.5,692.88 624.28,692.98 625.07,693.08 625.85,693.18 626.64,693.26 627.42,693.34 628.21,693.41 628.99,693.48 629.78,693.53 630.57,693.58 631.35,693.61 632.14,693.64 632.92,693.65 633.71,693.65 634.49,693.65 635.28,693.63 636.06,693.6 636.85,693.57 637.64,693.52 638.42,693.46 639.21,693.4 639.99,693.33 640.78,693.25 641.56,693.16 642.35,693.06 643.13,692.96 643.92,692.86 644.71,692.75 645.49,692.63 646.28,692.52 647.06,692.4 647.85,692.28 648.63,692.17 649.42,692.05 650.2,691.94 650.99,691.82 651.78,691.72 652.56,691.62 653.35,691.52 654.13,691.43 654.92,691.34 655.7,691.27 656.49,691.2 657.27,691.14 658.06,691.09 658.84,691.05 659.63,691.02 660.42,691 661.2,690.99 661.99,691 662.77,691.01 663.56,691.03 664.34,691.06 665.13,691.1 665.91,691.15 666.7,691.21 667.49,691.28 668.27,691.36 669.06,691.44 669.84,691.54 670.63,691.63 671.41,691.74 672.2,691.85 672.98,691.96 673.77,692.07 674.56,692.19 675.34,692.3 676.13,692.42 676.91,692.54 677.7,692.65 678.48,692.77 679.27,692.88 680.05,692.98 680.84,693.08" stroke="#ff00ff" stroke-width="2.2" fill="none" stroke-linejoin="round"/>
<polyline points="410,378.47 410.17,432.54 410.33,480 410.5,521.41 410.67,557.3 410.83,588.2 411,614.59 411.17,636.92 411.33,655.65 411.5,671.17 411.67,683.88 411.83,694.14 412,702.29 412.16,708.63 412.33,713.46 412.5,717.04 412.66,719.61 412.83,721.37 413,722.52 413.16,723.22 413.33,723.61 413.5,723.79 413.66,723.86 413.83,723.87 414,723.87 414.26,721.22 414.53,718.79 414.79,716.57 415.06,714.54 415.32,712.68 415.59,710.99 415.85,709.43 416.12,708.01 416.38,706.71 416.65,705.52 416.91,704.43 417.17,703.43 417.44,702.52 417.7,701.68 417.97,700.91 418.23,700.2 418.5,699.55 418.76,698.96 419.03,698.41 419.29,697.91 419.56,697.44 419.82,697.02 420.09,696.62 420.35,696.26 420.62,695.93 420.88,695.62 421.15,695.33 421.41,695.07 421.68,694.82 421.94,694.59 422.21,694.38 422.47,694.18 422.74,694 423,693.83 423.27,693.67 423.53,693.52 423.8,693.38 424.06,693.25 424.33,693.12 424.59,693 424.86,692.89 425.12,692.79 425.39,692.69 425.65,692.6 425.92,692.51 426.18,692.43 426.45,692.35 426.71,692.27 426.98,692.2 427.24,692.13 427.51,692.07 427.77,692 428.04,691.94 428.3,691.89 428.57,691.83 428.83,691.78 429.1,691.73 429.36,691.68 429.63,691.63 429.89,691.59 430.16,691.55 430.42,691.51 430.69,691.47 430.95,691.43 431.21,691.39 431.48,691.36 431.74,691.33 432.01,691.29 432.27,691.26 432.54,691.24 432.8,691.21 433.07,691.18 433.33,691.16 433.6,691.14 433.86,691.11 434.13,691.09 434.39,691.08 434.66,691.06 434.92,691.04 435.19,691.03 435.45,691.01 435.72,691 435.98,690.99 436.25,690.98 436.51,690.97 436.78,690.97 437.04,690.96 437.31,690.96 437.57,690.95 437.84,690.95 438.1,690.95 438.37,690.95 438.63,690.95 438.9,690.96 439.16,690.96 439.43,690.97 439.69,690.98 439.96,690.98 440.22,690.99 440.49,691 440.75,691.02 441.02,691.03 441.28,691.04 441.55,691.06 441.81,691.08 442.08,691.09 442.34,691.11 442.61,691.13 442.87,691.15 443.14,691.17 443.4,691.2 443.67,691.22 443.93,691.25 444.2,691.27 444.46,691.3 444.73,691.33 444.99,691.36 445.26,691.39 445.52,691.42 445.96,691.47 446.75,691.57 447.54,691.67 448.32,691.78 449.11,691.89 449.89,692.01 450.68,692.13 451.46,692.25 452.25,692.37 453.03,692.49 453.82,692.61 454.6,692.72 455.39,692.83 456.18,692.94 456.96,693.05 457.75,693.15 458.53,693.24 459.32,693.32 460.1,693.4 460.89,693.47 461.67,693.52 462.46,693.57 463.25,693.61 464.03,693.64 464.82,693.66 465.6,693.67 466.39,693.66 467.17,693.65 467.96,693.63 468.74,693.59 469.53,693.55 470.32,693.49 471.1,693.43 471.89,693.36 472.67,693.28 473.46,693.19 474.24,693.1 475.03,693 475.81,692.89 476.6,692.78 477.39,692.66 478.17,692.55 478.96,692.43 479.74,692.31 480.53,692.19 481.31,692.07 482.1,691.95 482.88,691.83 483.67,691.72 484.46,691.62 485.24,691.51 486.03,691.42 486.81,691.33 487.6,691.25 488.38,691.18 489.17,691.12 489.95,691.06 490.74,691.02 491.53,690.98 492.31,690.96 493.1,690.95 493.88,690.94 494.67,690.95 495.45,690.97 496.24,691 497.02,691.04 497.81,691.09 498.6,691.15 499.38,691.21 500.17,691.29 500.95,691.37 501.74,691.46 502.52,691.56 503.31,691.67 504.09,691.78 504.88,691.89 505.66,692 506.45,692.12 507.24,692.24 508.02,692.36 508.81,692.48 509.59,692.6 510.38,692.72 511.16,692.83 511.95,692.94 512.73,693.04 513.52,693.14 514.31,693.23 515.09,693.32 515.88,693.4 516.66,693.46 517.45,693.52 518.23,693.57 519.02,693.61 519.8,693.64 520.59,693.66 521.38,693.67 522.16,693.66 522.95,693.65 523.73,693.63 524.52,693.59 525.3,693.55 526.09,693.5 526.87,693.43 527.66,693.36 528.45,693.28 529.23,693.19 530.02,693.1 530.8,693 531.59,692.89 532.37,692.78 533.16,692.67 533.94,692.55 534.73,692.43 535.52,692.31 536.3,692.19 537.09,692.07 537.87,691.95 538.66,691.84 539.44,691.73 540.23,691.62 541.01,691.52 541.8,691.42 542.59,691.33 543.37,691.25 544.16,691.18 544.94,691.12 545.73,691.06 546.51,691.02 547.3,690.98 548.08,690.96 548.87,690.95 549.66,690.94 550.44,690.95 551.23,690.97 552.01,691 552.8,691.04 553.58,691.09 554.37,691.14 555.15,691.21 555.94,691.29 556.72,691.37 557.51,691.46 558.3,691.56 559.08,691.66 559.87,691.77 560.65,691.89 561.44,692 562.22,692.12 563.01,692.24 563.79,692.36 564.58,692.48 565.37,692.6 566.15,692.72 566.94,692.83 567.72,692.94 568.51,693.04 569.29,693.14 570.08,693.23 570.86,693.32 571.65,693.39 572.44,693.46 573.22,693.52 574.01,693.57 574.79,693.61 575.58,693.64 576.36,693.66 577.15,693.67 577.93,693.67 578.72,693.65 579.51,693.63 580.29,693.6 581.08,693.55 581.86,693.5 582.65,693.44 583.43,693.36 584.22,693.28 585,693.2 585.79,693.1 586.58,693 587.36,692.89 588.15,692.78 588.93,692.67 589.72,692.55 590.5,692.43 591.29,692.31 592.07,692.19 592.86,692.07 593.65,691.95 594.43,691.84 595.22,691.73 596,691.62 596.79,691.52 597.57,691.42 598.36,691.34 599.14,691.26 599.93,691.18 600.72,691.12 601.5,691.06 602.29,691.02 603.07,690.98 603.86,690.96 604.64,690.95 605.43,690.94 606.21,690.95 607,690.97 607.78,691 608.57,691.04 609.36,691.08 610.14,691.14 610.93,691.21 611.71,691.28 612.5,691.37 613.28,691.46 614.07,691.56 614.85,691.66 615.64,691.77 616.43,691.88 617.21,692 618,692.12 618.78,692.24 619.57,692.36 620.35,692.48 621.14,692.6 621.92,692.71 622.71,692.83 623.5,692.93 624.28,693.04 625.07,693.14 625.85,693.23 626.64,693.31 627.42,693.39 628.21,693.46 628.99,693.52 629.78,693.57 630.57,693.61 631.35,693.64 632.14,693.66 632.92,693.67 633.71,693.67 634.49,693.65 635.28,693.63 636.06,693.6 636.85,693.55 637.64,693.5 638.42,693.44 639.21,693.37 639.99,693.29 640.78,693.2 641.56,693.1 642.35,693 643.13,692.9 643.92,692.79 644.71,692.67 645.49,692.56 646.28,692.44 647.06,692.32 647.85,692.2 648.63,692.08 649.42,691.96 650.2,691.84 650.99,691.73 651.78,691.62 652.56,691.52 653.35,691.43 654.13,691.34 654.92,691.26 655.7,691.18 656.49,691.12 657.27,691.07 658.06,691.02 658.84,690.99 659.63,690.96 660.42,690.95 661.2,690.94 661.99,690.95 662.77,690.97 663.56,691 664.34,691.03 665.13,691.08 665.91,691.14 666.7,691.21 667.49,691.28 668.27,691.37 669.06,691.46 669.84,691.55 670.63,691.66 671.41,691.77 672.2,691.88 672.98,692 673.77,692.11 674.56,692.23 675.34,692.35 676.13,692.47 676.91,692.59 677.7,692.71 678.48,692.82 679.27,692.93 680.05,693.04 680.84,693.14" stroke="#00ffff" stroke-width="2.2" fill="none" stroke-linejoin="round"/>
<polyline points="410,458.3 410.19,489.08 410.37,517.3 410.56,543.06 410.74,566.49 410.93,587.68 411.11,606.76 411.3,623.83 411.48,639.01 411.67,652.4 411.85,664.12 412.04,674.28 412.22,682.99 412.4,690.37 412.59,696.52 412.77,701.55 412.96,705.58 413.14,708.72 413.33,711.08 413.51,712.77 413.7,713.9 413.88,714.59 414.07,714.94 414.25,715.07 414.44,715.09 414.53,715.02 414.79,714.57 415.06,713.93 415.32,713.18 415.59,712.36 415.85,711.48 416.12,710.57 416.38,709.65 416.65,708.71 416.91,707.79 417.17,706.87 417.44,705.97 417.7,705.1 417.97,704.25 418.23,703.43 418.5,702.65 418.76,701.9 419.03,701.19 419.29,700.51 419.56,699.87 419.82,699.27 420.09,698.71 420.35,698.18 420.62,697.69 420.88,697.23 421.15,696.8 421.41,696.4 421.68,696.03 421.94,695.7 422.21,695.38 422.47,695.1 422.74,694.83 423,694.59 423.27,694.37 423.53,694.17 423.8,693.99 424.06,693.82 424.33,693.67 424.59,693.53 424.86,693.41 425.12,693.3 425.39,693.2 425.65,693.11 425.92,693.02 426.18,692.95 426.45,692.89 426.71,692.83 426.98,692.77 427.24,692.73 427.51,692.68 427.77,692.65 428.04,692.61 428.3,692.58 428.57,692.56 428.83,692.53 429.1,692.51 429.36,692.5 429.63,692.48 429.89,692.47 430.16,692.45 430.42,692.44 430.69,692.43 430.95,692.42 431.21,692.42 431.48,692.41 431.74,692.4 432.01,692.4 432.27,692.4 432.54,692.39 432.8,692.39 433.07,692.39 433.33,692.38 433.6,692.38 433.86,692.38 434.13,692.38 434.39,692.38 434.66,692.37 434.92,692.37 435.19,692.37 435.45,692.37 435.72,692.37 435.98,692.37 436.25,692.37 436.51,692.37 436.78,692.37 437.04,692.37 437.31,692.37 437.57,692.37 437.84,692.37 438.1,692.37 438.37,692.37 438.63,692.37 438.9,692.37 439.16,692.37 439.43,692.37 439.69,692.37 439.96,692.37 440.22,692.37 440.49,692.37 440.75,692.37 441.02,692.37 441.28,692.37 441.55,692.37 441.81,692.37 442.08,692.37 442.34,692.37 442.61,692.37 442.87,692.37 443.14,692.37 443.4,692.37 443.67,692.37 443.93,692.37 444.2,692.37 444.46,692.37 444.73,692.37 444.99,692.37 445.26,692.37 445.52,692.37 445.96,692.37 446.75,692.37 447.54,692.37 448.32,692.37 449.11,692.37 449.89,692.37 450.68,692.37 451.46,692.37 452.25,692.37 453.03,692.37 453.82,692.37 454.6,692.37 455.39,692.37 456.18,692.37 456.96,692.37 457.75,692.37 458.53,692.37 459.32,692.37 460.1,692.37 460.89,692.37 461.67,692.37 462.46,692.37 463.25,692.37 464.03,692.37 464.82,692.37 465.6,692.37 466.39,692.37 467.17,692.37 467.96,692.37 468.74,692.37 469.53,692.37 470.32,692.37 471.1,692.37 471.89,692.37 472.67,692.37 473.46,692.37 474.24,692.37 475.03,692.37 475.81,692.37 476.6,692.37 477.39,692.37 478.17,692.37 478.96,692.37 479.74,692.37 480.53,692.37 481.31,692.37 482.1,692.37 482.88,692.37 483.67,692.37 484.46,692.37 485.24,692.37 486.03,692.37 486.81,692.37 487.6,692.37 488.38,692.37 489.17,692.37 489.95,692.37 490.74,692.37 491.53,692.37 492.31,692.37 493.1,692.37 493.88,692.37 494.67,692.37 495.45,692.37 496.24,692.37 497.02,692.37 497.81,692.37 498.6,692.37 499.38,692.37 500.17,692.37 500.95,692.37 501.74,692.37 502.52,692.37 503.31,692.37 504.09,692.37 504.88,692.37 505.66,692.37 506.45,692.37 507.24,692.37 508.02,692.37 508.81,692.37 509.59,692.37 510.38,692.37 511.16,692.37 511.95,692.37 512.73,692.37 513.52,692.37 514.31,692.37 515.09,692.37 515.88,692.37 516.66,692.37 517.45,692.37 518.23,692.37 519.02,692.37 519.8,692.37 520.59,692.37 521.38,692.37 522.16,692.37 522.95,692.37 523.73,692.37 524.52,692.37 525.3,692.37 526.09,692.37 526.87,692.37 527.66,692.37 528.45,692.37 529.23,692.37 530.02,692.37 530.8,692.37 531.59,692.37 532.37,692.37 533.16,692.37 533.94,692.37 534.73,692.37 535.52,692.37 536.3,692.37 537.09,692.37 537.87,692.37 538.66,692.37 539.44,692.37 540.23,692.37 541.01,692.37 541.8,692.37 542.59,692.37 543.37,692.37 544.16,692.37 544.94,692.37 545.73,692.37 546.51,692.37 547.3,692.37 548.08,692.37 548.87,692.37 549.66,692.37 550.44,692.37 551.23,692.37 552.01,692.37 552.8,692.37 553.58,692.37 554.37,692.37 555.15,692.37 555.94,692.37 556.72,692.37 557.51,692.37 558.3,692.37 559.08,692.37 559.87,692.37 560.65,692.37 561.44,692.37 562.22,692.37 563.01,692.37 563.79,692.37 564.58,692.37 565.37,692.37 566.15,692.37 566.94,692.37 567.72,692.37 568.51,692.37 569.29,692.37 570.08,692.37 570.86,692.37 571.65,692.37 572.44,692.37 573.22,692.37 574.01,692.37 574.79,692.37 575.58,692.37 576.36,692.37 577.15,692.37 577.93,692.37 578.72,692.37 579.51,692.37 580.29,692.37 581.08,692.37 581.86,692.37 582.65,692.37 583.43,692.37 584.22,692.37 585,692.37 585.79,692.37 586.58,692.37 587.36,692.37 588.15,692.37 588.93,692.37 589.72,692.37 590.5,692.37 591.29,692.37 592.07,692.37 592.86,692.37 593.65,692.37 594.43,692.37 595.22,692.37 596,692.37 596.79,692.37 597.57,692.37 598.36,692.37 599.14,692.37 599.93,692.37 600.72,692.37 601.5,692.37 602.29,692.37 603.07,692.37 603.86,692.37 604.64,692.37 605.43,692.37 606.21,692.37 607,692.37 607.78,692.37 608.57,692.37 609.36,692.37 610.14,692.37 610.93,692.37 611.71,692.37 612.5,692.37 613.28,692.37 614.07,692.37 614.85,692.37 615.64,692.37 616.43,692.37 617.21,692.37 618,692.37 618.78,692.37 619.57,692.37 620.35,692.37 621.14,692.37 621.92,692.37 622.71,692.37 623.5,692.37 624.28,692.37 625.07,692.37 625.85,692.37 626.64,692.37 627.42,692.37 628.21,692.37 628.99,692.37 629.78,692.37 630.57,692.37 631.35,692.37 632.14,692.37 632.92,692.37 633.71,692.37 634.49,692.37 635.28,692.37 636.06,692.37 636.85,692.37 637.64,692.37 638.42,692.37 639.21,692.37 639.99,692.37 640.78,692.37 641.56,692.37 642.35,692.37 643.13,692.37 643.92,692.37 644.71,692.37 645.49,692.37 646.28,692.37 647.06,692.37 647.85,692.37 648.63,692.37 649.42,692.37 650.2,692.37 650.99,692.37 651.78,692.37 652.56,692.37 653.35,692.37 654.13,692.37 654.92,692.37 655.7,692.37 656.49,692.37 657.27,692.37 658.06,692.37 658.84,692.37 659.63,692.37 660.42,692.37 661.2,692.37 661.99,692.37 662.77,692.37 663.56,692.37 664.34,692.37 665.13,692.37 665.91,692.37 666.7,692.37 667.49,692.37 668.27,692.37 669.06,692.37 669.84,692.37 670.63,692.37 671.41,692.37 672.2,692.37 672.98,692.37 673.77,692.37 674.56,692.37 675.34,692.37 676.13,692.37 676.91,692.37 677.7,692.37 678.48,692.37 679.27,692.37 680.05,692.37 680.84,692.37" stroke="#ff0000" stroke-width="2.2" fill="none" stroke-linejoin="round" stroke-dasharray="9 8.7"/>
</g>
<text x="410" y="745.4" text-anchor="middle">0</text>
<text x="498.8" y="745.4" text-anchor="middle">10</text>
<text x="587.6" y="745.4" text-anchor="middle">20</text>
<text x="676.4" y="745.4" text-anchor="middle">30</text>
<text x="403.5" y="716.9" text-anchor="end">4</text>
<text x="403.5" y="663.68" text-anchor="end">6</text>
<text x="403.5" y="610.46" text-anchor="end">8</text>
<text x="403.5" y="557.24" text-anchor="end">10</text>
<text x="403.5" y="504.02" text-anchor="end">12</text>
<text x="403.5" y="450.8" text-anchor="end">14</text>
<text x="543.2" y="764.9" text-anchor="middle" font-family='"Liberation Serif", serif' font-size="15.9" fill="#262626">Time(s)</text>
<text transform="translate(371.7,562.55) rotate(-90)" text-anchor="middle" font-family='"Liberation Serif", serif' font-size="15.7" fill="#262626">U<tspan font-size="11.5" dy="7.3">4</tspan><tspan dy="-7.3">(N)</tspan></text>
<rect x="537.7" y="414" width="126.3" height="68.6" fill="#fff" stroke="#262626" stroke-width="0.8"/>
<path d="M542 424.4H587.7" stroke="#00ee00" stroke-width="2.3"/>
<text x="591.9" y="429.4" font-family='"Liberation Serif", serif' font-size="14.2" letter-spacing="0.05" fill="#000">Controller 1</text>
<path d="M542 440.6H587.7" stroke="#ff00ff" stroke-width="2.3"/>
<text x="591.9" y="445.6" font-family='"Liberation Serif", serif' font-size="14.2" letter-spacing="0.05" fill="#000">Controller 2</text>
<path d="M542 456.8H587.7" stroke="#00ffff" stroke-width="2.3"/>
<text x="591.9" y="461.8" font-family='"Liberation Serif", serif' font-size="14.2" letter-spacing="0.05" fill="#000">Controller 3</text>
<path d="M542 473H587.7" stroke="#ff0000" stroke-width="2.3" stroke-dasharray="9.2 8.5"/>
<text x="591.9" y="478" font-family='"Liberation Serif", serif' font-size="14.2" letter-spacing="0.05" fill="#000">Controller 4</text>
<rect x="406.5" y="679.6" width="185.9" height="24.8" fill="none" stroke="#3a3a3a" stroke-width="0.9"/>
<clipPath id="c8"><rect x="446.7" y="501.4" width="219" height="87.5"/></clipPath>
<rect x="447.8" y="502.5" width="216.8" height="85.3" fill="#fff"/>
<path d="M501.8 587.8V502.5M556.1 587.8V502.5M610.4 587.8V502.5" stroke="#d6d6d6" stroke-width="0.9" stroke-dasharray="3 3" fill="none"/>
<path d="M447.8 545.15H664.6" stroke="#d6d6d6" stroke-width="0.9" stroke-dasharray="3 3" stroke-dashoffset="2.2" fill="none"/>
<path d="M447.5 587.8v-2.1M447.5 502.5v2.1M501.8 587.8v-2.1M501.8 502.5v2.1M556.1 587.8v-2.1M556.1 502.5v2.1M610.4 587.8v-2.1M610.4 502.5v2.1M664.7 587.8v-2.1M664.7 502.5v2.1M447.8 587.8h2.1M664.6 587.8h-2.1M447.8 545.15h2.1M664.6 545.15h-2.1M447.8 502.5h2.1M664.6 502.5h-2.1" stroke="#262626" stroke-width="0.8" fill="none"/>
<rect x="447.8" y="502.5" width="216.8" height="85.3" stroke="#262626" stroke-width="0.8" fill="none"/>
<g clip-path="url(#c8)">
<polyline points="447.5,-4487.55 447.7,-3620.97 447.91,-2860.34 448.11,-2196.66 448.31,-1621.32 448.52,-1126.1 448.72,-703.2 448.93,-345.2 449.13,-45.1 449.33,203.7 449.54,407.42 449.74,571.85 449.94,702.42 450.15,804.12 450.35,881.56 450.55,938.94 450.76,980.07 450.96,1008.36 451.17,1026.8 451.37,1037.99 451.57,1044.15 451.78,1047.07 451.98,1048.15 452.18,1048.4 452.39,1048.42 452.71,1007.29 453.03,969.58 453.36,934.99 453.68,903.27 454.01,874.17 454.33,847.47 454.65,822.97 454.98,800.48 455.3,779.83 455.63,760.87 455.95,743.46 456.27,727.46 456.6,712.75 456.92,699.23 457.25,686.79 457.57,675.34 457.89,664.81 458.22,655.1 458.54,646.16 458.87,637.91 459.19,630.31 459.51,623.28 459.84,616.8 460.16,610.8 460.49,605.25 460.81,600.11 461.13,595.34 461.46,590.92 461.78,586.82 462.11,583 462.43,579.45 462.75,576.15 463.08,573.06 463.4,570.18 463.73,567.49 464.05,564.96 464.37,562.6 464.7,560.38 465.02,558.29 465.35,556.33 465.67,554.48 465.99,552.73 466.32,551.08 466.64,549.52 466.97,548.04 467.29,546.63 467.61,545.3 467.94,544.03 468.26,542.82 468.59,541.67 468.91,540.57 469.23,539.52 469.56,538.52 469.88,537.56 470.21,536.64 470.53,535.76 470.85,534.92 471.18,534.11 471.5,533.34 471.83,532.6 472.15,531.89 472.47,531.21 472.8,530.55 473.12,529.93 473.45,529.33 473.77,528.75 474.09,528.21 474.42,527.68 474.74,527.18 475.07,526.71 475.39,526.25 475.71,525.82 476.04,525.41 476.36,525.03 476.69,524.67 477.01,524.32 477.33,524 477.66,523.71 477.98,523.43 478.3,523.17 478.63,522.94 478.95,522.73 479.28,522.53 479.6,522.36 479.92,522.21 480.25,522.08 480.57,521.97 480.9,521.88 481.22,521.81 481.54,521.76 481.87,521.73 482.19,521.72 482.52,521.73 482.84,521.76 483.16,521.81 483.49,521.88 483.81,521.97 484.14,522.08 484.46,522.21 484.78,522.36 485.11,522.52 485.43,522.71 485.76,522.91 486.08,523.13 486.4,523.37 486.73,523.63 487.05,523.9 487.38,524.19 487.7,524.5 488.02,524.82 488.35,525.16 488.67,525.52 489,525.89 489.32,526.27 489.64,526.67 489.97,527.09 490.29,527.52 490.62,527.96 490.94,528.42 491.48,529.21 492.44,530.7 493.4,532.28 494.37,533.94 495.33,535.67 496.29,537.45 497.25,539.28 498.21,541.14 499.17,543 500.13,544.86 501.09,546.71 502.05,548.53 503.01,550.29 503.97,552 504.93,553.64 505.89,555.19 506.85,556.64 507.81,557.99 508.78,559.21 509.74,560.31 510.7,561.26 511.66,562.08 512.62,562.74 513.58,563.24 514.54,563.58 515.5,563.76 516.46,563.77 517.42,563.62 518.38,563.31 519.34,562.83 520.3,562.2 521.26,561.41 522.23,560.48 523.19,559.41 524.15,558.2 525.11,556.88 526.07,555.44 527.03,553.91 527.99,552.28 528.95,550.59 529.91,548.82 530.87,547.02 531.83,545.17 532.79,543.31 533.75,541.45 534.71,539.59 535.67,537.76 536.64,535.96 537.6,534.22 538.56,532.54 539.52,530.95 540.48,529.44 541.44,528.04 542.4,526.75 543.36,525.59 544.32,524.56 545.28,523.67 546.24,522.94 547.2,522.35 548.16,521.93 549.12,521.66 550.09,521.57 551.05,521.63 552.01,521.86 552.97,522.26 553.93,522.81 554.89,523.52 555.85,524.38 556.81,525.38 557.77,526.52 558.73,527.78 559.69,529.16 560.65,530.65 561.61,532.23 562.57,533.89 563.53,535.62 564.5,537.4 565.46,539.23 566.42,541.08 567.38,542.95 568.34,544.81 569.3,546.66 570.26,548.48 571.22,550.25 572.18,551.96 573.14,553.6 574.1,555.15 575.06,556.61 576.02,557.95 576.98,559.18 577.95,560.28 578.91,561.24 579.87,562.06 580.83,562.72 581.79,563.23 582.75,563.57 583.71,563.76 584.67,563.78 585.63,563.63 586.59,563.32 587.55,562.85 588.51,562.22 589.47,561.43 590.43,560.51 591.39,559.44 592.36,558.24 593.32,556.92 594.28,555.48 595.24,553.95 596.2,552.33 597.16,550.63 598.12,548.87 599.08,547.07 600.04,545.22 601,543.36 601.96,541.5 602.92,539.64 603.88,537.81 604.84,536.01 605.81,534.27 606.77,532.59 607.73,530.99 608.69,529.48 609.65,528.08 610.61,526.79 611.57,525.62 612.53,524.59 613.49,523.7 614.45,522.95 615.41,522.37 616.37,521.94 617.33,521.67 618.29,521.57 619.26,521.63 620.22,521.85 621.18,522.24 622.14,522.79 623.1,523.5 624.06,524.35 625.02,525.35 625.98,526.48 626.94,527.74 627.9,529.12 628.86,530.6 629.82,532.18 630.78,533.84 631.74,535.57 632.7,537.35 633.67,539.18 634.63,541.03 635.59,542.9 636.55,544.76 637.51,546.61 638.47,548.43 639.43,550.2 640.39,551.91 641.35,553.55 642.31,555.11 643.27,556.57 644.23,557.92 645.19,559.15 646.15,560.25 647.12,561.22 648.08,562.04 649.04,562.7 650,563.22 650.96,563.57 651.92,563.75 652.88,563.78 653.84,563.64 654.8,563.33 655.76,562.86 656.72,562.24 657.68,561.46 658.64,560.53 659.6,559.47 660.56,558.27 661.53,556.95 662.49,555.52 663.45,553.99 664.41,552.37 665.37,550.68 666.33,548.92 667.29,547.12 668.25,545.28 669.21,543.41 670.17,541.55 671.13,539.69 672.09,537.85 673.05,536.06 674.01,534.31 674.98,532.63 675.94,531.03 676.9,529.52 677.86,528.11 678.82,526.82 679.78,525.65 680.74,524.61 681.7,523.72 682.66,522.97 683.62,522.38 684.58,521.95 685.54,521.67 686.5,521.57 687.46,521.62 688.42,521.85 689.39,522.23 690.35,522.78 691.31,523.48 692.27,524.33 693.23,525.32 694.19,526.45 695.15,527.71 696.11,529.08 697.07,530.56 698.03,532.14 698.99,533.79 699.95,535.52 700.91,537.3 701.87,539.13 702.84,540.98 703.8,542.85 704.76,544.71 705.72,546.56 706.68,548.38 707.64,550.15 708.6,551.87 709.56,553.51 710.52,555.07 711.48,556.53 712.44,557.88 713.4,559.12 714.36,560.22 715.32,561.19 716.28,562.02 717.25,562.69 718.21,563.2 719.17,563.56 720.13,563.75 721.09,563.78 722.05,563.64 723.01,563.34 723.97,562.88 724.93,562.26 725.89,561.48 726.85,560.56 727.81,559.5 728.77,558.31 729.73,556.99 730.7,555.56 731.66,554.04 732.62,552.42 733.58,550.73 734.54,548.97 735.5,547.17 736.46,545.33 737.42,543.47 738.38,541.6 739.34,539.74 740.3,537.9 741.26,536.11 742.22,534.36 743.18,532.68 744.15,531.07 745.11,529.56 746.07,528.15 747.03,526.85 747.99,525.68 748.95,524.64 749.91,523.74 750.87,522.99 751.83,522.39 752.79,521.96 753.75,521.68 754.71,521.57 755.67,521.62 756.63,521.84 757.59,522.22 758.56,522.76 759.52,523.46 760.48,524.3 761.44,525.29 762.4,526.42 763.36,527.67 764.32,529.04 765.28,530.52 766.24,532.09 767.2,533.75 768.16,535.47 769.12,537.25 770.08,539.08 771.04,540.93 772.01,542.8 772.97,544.66 773.93,546.51 774.89,548.33 775.85,550.1 776.81,551.82 777.77,553.47 778.73,555.03" stroke="#00ee00" stroke-width="2.2" fill="none" stroke-linejoin="round"/>
<polyline points="447.5,-4487.55 447.7,-3620.97 447.91,-2860.34 448.11,-2196.66 448.31,-1621.32 448.52,-1126.1 448.72,-703.2 448.93,-345.2 449.13,-45.1 449.33,203.7 449.54,407.42 449.74,571.85 449.94,702.42 450.15,804.12 450.35,881.56 450.55,938.94 450.76,980.07 450.96,1008.36 451.17,1026.8 451.37,1037.99 451.57,1044.15 451.78,1047.07 451.98,1048.15 452.18,1048.4 452.39,1048.42 452.71,1009.51 453.03,973.66 453.36,940.62 453.68,910.17 454.01,882.1 454.33,856.22 454.65,832.36 454.98,810.35 455.3,790.04 455.63,771.31 455.95,754.01 456.27,738.05 456.6,723.31 456.92,709.69 457.25,697.1 457.57,685.47 457.89,674.71 458.22,664.75 458.54,655.54 458.87,647 459.19,639.09 459.51,631.76 459.84,624.96 460.16,618.65 460.49,612.78 460.81,607.33 461.13,602.26 461.46,597.53 461.78,593.13 462.11,589.03 462.43,585.19 462.75,581.61 463.08,578.26 463.4,575.13 463.73,572.19 464.05,569.43 464.37,566.84 464.7,564.4 465.02,562.11 465.35,559.95 465.67,557.91 465.99,555.98 466.32,554.16 466.64,552.43 466.97,550.79 467.29,549.24 467.61,547.76 467.94,546.36 468.26,545.02 468.59,543.75 468.91,542.54 469.23,541.38 469.56,540.27 469.88,539.21 470.21,538.2 470.53,537.23 470.85,536.31 471.18,535.42 471.5,534.57 471.83,533.75 472.15,532.97 472.47,532.23 472.8,531.51 473.12,530.82 473.45,530.17 473.77,529.54 474.09,528.94 474.42,528.37 474.74,527.82 475.07,527.3 475.39,526.8 475.71,526.33 476.04,525.88 476.36,525.46 476.69,525.06 477.01,524.69 477.33,524.33 477.66,524 477.98,523.69 478.3,523.41 478.63,523.15 478.95,522.9 479.28,522.68 479.6,522.49 479.92,522.31 480.25,522.16 480.57,522.02 480.9,521.91 481.22,521.82 481.54,521.75 481.87,521.7 482.19,521.67 482.52,521.67 482.84,521.68 483.16,521.71 483.49,521.77 483.81,521.84 484.14,521.93 484.46,522.05 484.78,522.18 485.11,522.33 485.43,522.5 485.76,522.69 486.08,522.9 486.4,523.12 486.73,523.37 487.05,523.63 487.38,523.91 487.7,524.21 488.02,524.52 488.35,524.85 488.67,525.2 489,525.56 489.32,525.94 489.64,526.34 489.97,526.75 490.29,527.17 490.62,527.61 490.94,528.06 491.48,528.84 492.44,530.32 493.4,531.89 494.37,533.55 495.33,535.29 496.29,537.08 497.25,538.91 498.21,540.78 499.17,542.66 500.13,544.55 501.09,546.42 502.05,548.26 503.01,550.06 503.97,551.8 504.93,553.47 505.89,555.06 506.85,556.55 507.81,557.93 508.78,559.2 509.74,560.33 510.7,561.33 511.66,562.19 512.62,562.89 513.58,563.43 514.54,563.81 515.5,564.03 516.46,564.08 517.42,563.97 518.38,563.69 519.34,563.24 520.3,562.64 521.26,561.88 522.23,560.97 523.19,559.92 524.15,558.73 525.11,557.42 526.07,555.99 527.03,554.46 527.99,552.84 528.95,551.14 529.91,549.38 530.87,547.56 531.83,545.71 532.79,543.83 533.75,541.94 534.71,540.07 535.67,538.21 536.64,536.38 537.6,534.61 538.56,532.9 539.52,531.27 540.48,529.73 541.44,528.29 542.4,526.96 543.36,525.76 544.32,524.69 545.28,523.76 546.24,522.98 547.2,522.35 548.16,521.89 549.12,521.58 550.09,521.45 551.05,521.47 552.01,521.67 552.97,522.03 553.93,522.55 554.89,523.24 555.85,524.07 556.81,525.05 557.77,526.17 558.73,527.42 559.69,528.78 560.65,530.26 561.61,531.84 562.57,533.5 563.53,535.23 564.5,537.02 565.46,538.86 566.42,540.73 567.38,542.61 568.34,544.49 569.3,546.37 570.26,548.21 571.22,550.01 572.18,551.75 573.14,553.43 574.1,555.01 575.06,556.51 576.02,557.9 576.98,559.16 577.95,560.3 578.91,561.31 579.87,562.16 580.83,562.87 581.79,563.42 582.75,563.81 583.71,564.03 584.67,564.08 585.63,563.97 586.59,563.7 587.55,563.26 588.51,562.66 589.47,561.9 590.43,561 591.39,559.95 592.36,558.76 593.32,557.46 594.28,556.03 595.24,554.51 596.2,552.89 597.16,551.19 598.12,549.43 599.08,547.61 600.04,545.76 601,543.88 601.96,542 602.92,540.12 603.88,538.26 604.84,536.43 605.81,534.66 606.77,532.95 607.73,531.31 608.69,529.77 609.65,528.33 610.61,527 611.57,525.79 612.53,524.71 613.49,523.78 614.45,523 615.41,522.37 616.37,521.9 617.33,521.59 618.29,521.45 619.26,521.47 620.22,521.66 621.18,522.02 622.14,522.54 623.1,523.21 624.06,524.04 625.02,525.02 625.98,526.14 626.94,527.38 627.9,528.74 628.86,530.22 629.82,531.79 630.78,533.45 631.74,535.18 632.7,536.97 633.67,538.81 634.63,540.68 635.59,542.56 636.55,544.44 637.51,546.31 638.47,548.16 639.43,549.96 640.39,551.71 641.35,553.38 642.31,554.97 643.27,556.47 644.23,557.86 645.19,559.13 646.15,560.27 647.12,561.28 648.08,562.14 649.04,562.85 650,563.41 650.96,563.8 651.92,564.02 652.88,564.09 653.84,563.98 654.8,563.71 655.76,563.27 656.72,562.68 657.68,561.92 658.64,561.02 659.6,559.98 660.56,558.8 661.53,557.49 662.49,556.07 663.45,554.55 664.41,552.93 665.37,551.24 666.33,549.48 667.29,547.66 668.25,545.81 669.21,543.93 670.17,542.05 671.13,540.17 672.09,538.31 673.05,536.48 674.01,534.71 674.98,532.99 675.94,531.36 676.9,529.81 677.86,528.36 678.82,527.03 679.78,525.82 680.74,524.74 681.7,523.8 682.66,523.02 683.62,522.38 684.58,521.91 685.54,521.59 686.5,521.45 687.46,521.47 688.42,521.66 689.39,522.01 690.35,522.52 691.31,523.19 692.27,524.02 693.23,524.99 694.19,526.1 695.15,527.34 696.11,528.71 697.07,530.18 698.03,531.75 698.99,533.4 699.95,535.13 700.91,536.92 701.87,538.76 702.84,540.62 703.8,542.51 704.76,544.39 705.72,546.26 706.68,548.11 707.64,549.91 708.6,551.66 709.56,553.34 710.52,554.93 711.48,556.43 712.44,557.82 713.4,559.1 714.36,560.24 715.32,561.26 716.28,562.12 717.25,562.84 718.21,563.39 719.17,563.79 720.13,564.02 721.09,564.09 722.05,563.98 723.01,563.72 723.97,563.29 724.93,562.69 725.89,561.95 726.85,561.05 727.81,560.01 728.77,558.83 729.73,557.53 730.7,556.11 731.66,554.59 732.62,552.98 733.58,551.29 734.54,549.53 735.5,547.71 736.46,545.86 737.42,543.98 738.38,542.1 739.34,540.22 740.3,538.36 741.26,536.53 742.22,534.75 743.18,533.04 744.15,531.4 745.11,529.85 746.07,528.4 747.03,527.07 747.99,525.85 748.95,524.77 749.91,523.83 750.87,523.04 751.83,522.4 752.79,521.92 753.75,521.6 754.71,521.45 755.67,521.47 756.63,521.65 757.59,522 758.56,522.51 759.52,523.17 760.48,524 761.44,524.96 762.4,526.07 763.36,527.31 764.32,528.67 765.28,530.14 766.24,531.7 767.2,533.36 768.16,535.09 769.12,536.87 770.08,538.71 771.04,540.57 772.01,542.46 772.97,544.34 773.93,546.21 774.89,548.06 775.85,549.86 776.81,551.61 777.77,553.29 778.73,554.89" stroke="#ff00ff" stroke-width="2.2" fill="none" stroke-linejoin="round"/>
<polyline points="447.5,-4487.55 447.7,-3620.97 447.91,-2860.34 448.11,-2196.66 448.31,-1621.32 448.52,-1126.1 448.72,-703.2 448.93,-345.2 449.13,-45.1 449.33,203.7 449.54,407.42 449.74,571.85 449.94,702.42 450.15,804.12 450.35,881.56 450.55,938.94 450.76,980.07 450.96,1008.36 451.17,1026.8 451.37,1037.99 451.57,1044.15 451.78,1047.07 451.98,1048.15 452.18,1048.4 452.39,1048.42 452.71,1005.85 453.03,966.94 453.36,931.37 453.68,898.84 454.01,869.1 454.33,841.9 454.65,817.01 454.98,794.23 455.3,773.39 455.63,754.31 455.95,736.83 456.27,720.82 456.6,706.15 456.92,692.7 457.25,680.36 457.57,669.04 457.89,658.65 458.22,649.1 458.54,640.33 458.87,632.26 459.19,624.84 459.51,618 459.84,611.69 460.16,605.88 460.49,600.51 460.81,595.55 461.13,590.96 461.46,586.71 461.78,582.77 462.11,579.12 462.43,575.72 462.75,572.55 463.08,569.61 463.4,566.86 463.73,564.29 464.05,561.89 464.37,559.64 464.7,557.53 465.02,555.54 465.35,553.67 465.67,551.91 465.99,550.25 466.32,548.68 466.64,547.19 466.97,545.78 467.29,544.44 467.61,543.17 467.94,541.96 468.26,540.8 468.59,539.7 468.91,538.65 469.23,537.65 469.56,536.68 469.88,535.76 470.21,534.88 470.53,534.04 470.85,533.23 471.18,532.45 471.5,531.71 471.83,530.99 472.15,530.31 472.47,529.65 472.8,529.02 473.12,528.42 473.45,527.84 473.77,527.29 474.09,526.76 474.42,526.25 474.74,525.77 475.07,525.32 475.39,524.88 475.71,524.47 476.04,524.08 476.36,523.72 476.69,523.37 477.01,523.05 477.33,522.75 477.66,522.47 477.98,522.21 478.3,521.97 478.63,521.76 478.95,521.56 479.28,521.39 479.6,521.24 479.92,521.1 480.25,520.99 480.57,520.91 480.9,520.84 481.22,520.79 481.54,520.76 481.87,520.76 482.19,520.77 482.52,520.8 482.84,520.86 483.16,520.93 483.49,521.03 483.81,521.14 484.14,521.28 484.46,521.43 484.78,521.6 485.11,521.79 485.43,522.01 485.76,522.23 486.08,522.48 486.4,522.75 486.73,523.03 487.05,523.33 487.38,523.65 487.7,523.99 488.02,524.34 488.35,524.71 488.67,525.09 489,525.49 489.32,525.91 489.64,526.34 489.97,526.78 490.29,527.24 490.62,527.71 490.94,528.2 491.48,529.04 492.44,530.61 493.4,532.28 494.37,534.02 495.33,535.83 496.29,537.7 497.25,539.6 498.21,541.52 499.17,543.45 500.13,545.38 501.09,547.28 502.05,549.14 503.01,550.95 503.97,552.69 504.93,554.36 505.89,555.93 506.85,557.4 507.81,558.74 508.78,559.97 509.74,561.05 510.7,561.99 511.66,562.78 512.62,563.41 513.58,563.87 514.54,564.17 515.5,564.29 516.46,564.25 517.42,564.04 518.38,563.65 519.34,563.11 520.3,562.4 521.26,561.53 522.23,560.52 523.19,559.36 524.15,558.07 525.11,556.66 526.07,555.14 527.03,553.52 527.99,551.81 528.95,550.03 529.91,548.19 530.87,546.31 531.83,544.4 532.79,542.47 533.75,540.54 534.71,538.62 535.67,536.74 536.64,534.9 537.6,533.12 538.56,531.41 539.52,529.79 540.48,528.27 541.44,526.86 542.4,525.57 543.36,524.41 544.32,523.4 545.28,522.53 546.24,521.82 547.2,521.27 548.16,520.89 549.12,520.68 550.09,520.63 551.05,520.76 552.01,521.05 552.97,521.52 553.93,522.15 554.89,522.93 555.85,523.87 556.81,524.96 557.77,526.18 558.73,527.53 559.69,528.99 560.65,530.56 561.61,532.23 562.57,533.97 563.53,535.78 564.5,537.64 565.46,539.54 566.42,541.47 567.38,543.4 568.34,545.32 569.3,547.22 570.26,549.09 571.22,550.9 572.18,552.65 573.14,554.31 574.1,555.89 575.06,557.36 576.02,558.71 576.98,559.94 577.95,561.02 578.91,561.97 579.87,562.76 580.83,563.39 581.79,563.86 582.75,564.16 583.71,564.29 584.67,564.25 585.63,564.05 586.59,563.67 587.55,563.12 588.51,562.42 589.47,561.56 590.43,560.55 591.39,559.39 592.36,558.11 593.32,556.7 594.28,555.18 595.24,553.56 596.2,551.86 597.16,550.08 598.12,548.24 599.08,546.36 600.04,544.45 601,542.52 601.96,540.59 602.92,538.67 603.88,536.79 604.84,534.95 605.81,533.17 606.77,531.46 607.73,529.83 608.69,528.31 609.65,526.9 610.61,525.6 611.57,524.44 612.53,523.42 613.49,522.55 614.45,521.84 615.41,521.29 616.37,520.9 617.33,520.68 618.29,520.63 619.26,520.75 620.22,521.04 621.18,521.5 622.14,522.13 623.1,522.91 624.06,523.84 625.02,524.92 625.98,526.14 626.94,527.49 627.9,528.95 628.86,530.52 629.82,532.18 630.78,533.92 631.74,535.73 632.7,537.59 633.67,539.49 634.63,541.42 635.59,543.35 636.55,545.27 637.51,547.17 638.47,549.04 639.43,550.85 640.39,552.6 641.35,554.27 642.31,555.85 643.27,557.32 644.23,558.67 645.19,559.9 646.15,561 647.12,561.94 648.08,562.74 649.04,563.38 650,563.85 650.96,564.16 651.92,564.29 652.88,564.26 653.84,564.05 654.8,563.68 655.76,563.14 656.72,562.44 657.68,561.58 658.64,560.57 659.6,559.43 660.56,558.14 661.53,556.74 662.49,555.23 663.45,553.61 664.41,551.91 665.37,550.13 666.33,548.3 667.29,546.41 668.25,544.5 669.21,542.57 670.17,540.64 671.13,538.73 672.09,536.84 673.05,535 674.01,533.21 674.98,531.5 675.94,529.88 676.9,528.35 677.86,526.93 678.82,525.64 679.78,524.47 680.74,523.45 681.7,522.58 682.66,521.86 683.62,521.3 684.58,520.91 685.54,520.68 686.5,520.63 687.46,520.75 688.42,521.03 689.39,521.49 690.35,522.11 691.31,522.89 692.27,523.82 693.23,524.89 694.19,526.11 695.15,527.45 696.11,528.91 697.07,530.47 698.03,532.13 698.99,533.87 699.95,535.68 700.91,537.54 701.87,539.44 702.84,541.36 703.8,543.29 704.76,545.22 705.72,547.12 706.68,548.99 707.64,550.8 708.6,552.55 709.56,554.23 710.52,555.8 711.48,557.28 712.44,558.64 713.4,559.87 714.36,560.97 715.32,561.92 716.28,562.72 717.25,563.36 718.21,563.84 719.17,564.15 720.13,564.29 721.09,564.26 722.05,564.06 723.01,563.69 723.97,563.16 724.93,562.46 725.89,561.61 726.85,560.6 727.81,559.46 728.77,558.18 729.73,556.78 730.7,555.27 731.66,553.66 732.62,551.96 733.58,550.18 734.54,548.35 735.5,546.46 736.46,544.55 737.42,542.62 738.38,540.69 739.34,538.78 740.3,536.89 741.26,535.05 742.22,533.26 743.18,531.55 744.15,529.92 745.11,528.39 746.07,526.97 747.03,525.67 747.99,524.5 748.95,523.48 749.91,522.6 750.87,521.87 751.83,521.31 752.79,520.91 753.75,520.69 754.71,520.63 755.67,520.74 756.63,521.02 757.59,521.47 758.56,522.09 759.52,522.86 760.48,523.79 761.44,524.86 762.4,526.07 763.36,527.41 764.32,528.87 765.28,530.43 766.24,532.09 767.2,533.83 768.16,535.63 769.12,537.49 770.08,539.39 771.04,541.31 772.01,543.24 772.97,545.17 773.93,547.07 774.89,548.94 775.85,550.75 776.81,552.51 777.77,554.18 778.73,555.76" stroke="#00ffff" stroke-width="2.2" fill="none" stroke-linejoin="round"/>
<polyline points="447.5,-3208.05 447.73,-2714.72 447.95,-2262.48 448.18,-1849.54 448.4,-1474.11 448.63,-1134.41 448.86,-828.65 449.08,-555.04 449.31,-311.8 449.54,-97.14 449.76,90.72 449.99,253.58 450.21,393.21 450.44,511.41 450.67,609.95 450.89,690.63 451.12,755.24 451.35,805.56 451.57,843.37 451.8,870.46 452.02,888.62 452.25,899.64 452.48,905.29 452.7,907.38 452.93,907.68 453.03,906.56 453.36,899.28 453.68,889.06 454.01,877.05 454.33,863.83 454.65,849.8 454.98,835.24 455.3,820.4 455.63,805.47 455.95,790.59 456.27,775.9 456.6,761.5 456.92,747.48 457.25,733.89 457.57,720.8 457.89,708.24 458.22,696.24 458.54,684.83 458.87,674 459.19,663.78 459.51,654.14 459.84,645.09 460.16,636.61 460.49,628.7 460.81,621.32 461.13,614.47 461.46,608.11 461.78,602.23 462.11,596.8 462.43,591.8 462.75,587.2 463.08,582.99 463.4,579.12 463.73,575.59 464.05,572.37 464.37,569.44 464.7,566.77 465.02,564.35 465.35,562.15 465.67,560.17 465.99,558.37 466.32,556.76 466.64,555.3 466.97,553.99 467.29,552.81 467.61,551.76 467.94,550.81 468.26,549.97 468.59,549.21 468.91,548.54 469.23,547.94 469.56,547.41 469.88,546.93 470.21,546.51 470.53,546.14 470.85,545.81 471.18,545.52 471.5,545.26 471.83,545.03 472.15,544.83 472.47,544.66 472.8,544.5 473.12,544.37 473.45,544.25 473.77,544.14 474.09,544.05 474.42,543.97 474.74,543.9 475.07,543.84 475.39,543.79 475.71,543.74 476.04,543.7 476.36,543.66 476.69,543.63 477.01,543.61 477.33,543.59 477.66,543.57 477.98,543.55 478.3,543.53 478.63,543.52 478.95,543.51 479.28,543.5 479.6,543.49 479.92,543.49 480.25,543.48 480.57,543.47 480.9,543.47 481.22,543.47 481.54,543.46 481.87,543.46 482.19,543.46 482.52,543.46 482.84,543.45 483.16,543.45 483.49,543.45 483.81,543.45 484.14,543.45 484.46,543.45 484.78,543.45 485.11,543.45 485.43,543.45 485.76,543.45 486.08,543.45 486.4,543.45 486.73,543.45 487.05,543.45 487.38,543.44 487.7,543.44 488.02,543.44 488.35,543.44 488.67,543.44 489,543.44 489.32,543.44 489.64,543.44 489.97,543.44 490.29,543.44 490.62,543.44 490.94,543.44 491.48,543.44 492.44,543.44 493.4,543.44 494.37,543.44 495.33,543.44 496.29,543.44 497.25,543.44 498.21,543.44 499.17,543.44 500.13,543.44 501.09,543.44 502.05,543.44 503.01,543.44 503.97,543.44 504.93,543.44 505.89,543.44 506.85,543.44 507.81,543.44 508.78,543.44 509.74,543.44 510.7,543.44 511.66,543.44 512.62,543.44 513.58,543.44 514.54,543.44 515.5,543.44 516.46,543.44 517.42,543.44 518.38,543.44 519.34,543.44 520.3,543.44 521.26,543.44 522.23,543.44 523.19,543.44 524.15,543.44 525.11,543.44 526.07,543.44 527.03,543.44 527.99,543.44 528.95,543.44 529.91,543.44 530.87,543.44 531.83,543.44 532.79,543.44 533.75,543.44 534.71,543.44 535.67,543.44 536.64,543.44 537.6,543.44 538.56,543.44 539.52,543.44 540.48,543.44 541.44,543.44 542.4,543.44 543.36,543.44 544.32,543.44 545.28,543.44 546.24,543.44 547.2,543.44 548.16,543.44 549.12,543.44 550.09,543.44 551.05,543.44 552.01,543.44 552.97,543.44 553.93,543.44 554.89,543.44 555.85,543.44 556.81,543.44 557.77,543.44 558.73,543.44 559.69,543.44 560.65,543.44 561.61,543.44 562.57,543.44 563.53,543.44 564.5,543.44 565.46,543.44 566.42,543.44 567.38,543.44 568.34,543.44 569.3,543.44 570.26,543.44 571.22,543.44 572.18,543.44 573.14,543.44 574.1,543.44 575.06,543.44 576.02,543.44 576.98,543.44 577.95,543.44 578.91,543.44 579.87,543.44 580.83,543.44 581.79,543.44 582.75,543.44 583.71,543.44 584.67,543.44 585.63,543.44 586.59,543.44 587.55,543.44 588.51,543.44 589.47,543.44 590.43,543.44 591.39,543.44 592.36,543.44 593.32,543.44 594.28,543.44 595.24,543.44 596.2,543.44 597.16,543.44 598.12,543.44 599.08,543.44 600.04,543.44 601,543.44 601.96,543.44 602.92,543.44 603.88,543.44 604.84,543.44 605.81,543.44 606.77,543.44 607.73,543.44 608.69,543.44 609.65,543.44 610.61,543.44 611.57,543.44 612.53,543.44 613.49,543.44 614.45,543.44 615.41,543.44 616.37,543.44 617.33,543.44 618.29,543.44 619.26,543.44 620.22,543.44 621.18,543.44 622.14,543.44 623.1,543.44 624.06,543.44 625.02,543.44 625.98,543.44 626.94,543.44 627.9,543.44 628.86,543.44 629.82,543.44 630.78,543.44 631.74,543.44 632.7,543.44 633.67,543.44 634.63,543.44 635.59,543.44 636.55,543.44 637.51,543.44 638.47,543.44 639.43,543.44 640.39,543.44 641.35,543.44 642.31,543.44 643.27,543.44 644.23,543.44 645.19,543.44 646.15,543.44 647.12,543.44 648.08,543.44 649.04,543.44 650,543.44 650.96,543.44 651.92,543.44 652.88,543.44 653.84,543.44 654.8,543.44 655.76,543.44 656.72,543.44 657.68,543.44 658.64,543.44 659.6,543.44 660.56,543.44 661.53,543.44 662.49,543.44 663.45,543.44 664.41,543.44 665.37,543.44 666.33,543.44 667.29,543.44 668.25,543.44 669.21,543.44 670.17,543.44 671.13,543.44 672.09,543.44 673.05,543.44 674.01,543.44 674.98,543.44 675.94,543.44 676.9,543.44 677.86,543.44 678.82,543.44 679.78,543.44 680.74,543.44 681.7,543.44 682.66,543.44 683.62,543.44 684.58,543.44 685.54,543.44 686.5,543.44 687.46,543.44 688.42,543.44 689.39,543.44 690.35,543.44 691.31,543.44 692.27,543.44 693.23,543.44 694.19,543.44 695.15,543.44 696.11,543.44 697.07,543.44 698.03,543.44 698.99,543.44 699.95,543.44 700.91,543.44 701.87,543.44 702.84,543.44 703.8,543.44 704.76,543.44 705.72,543.44 706.68,543.44 707.64,543.44 708.6,543.44 709.56,543.44 710.52,543.44 711.48,543.44 712.44,543.44 713.4,543.44 714.36,543.44 715.32,543.44 716.28,543.44 717.25,543.44 718.21,543.44 719.17,543.44 720.13,543.44 721.09,543.44 722.05,543.44 723.01,543.44 723.97,543.44 724.93,543.44 725.89,543.44 726.85,543.44 727.81,543.44 728.77,543.44 729.73,543.44 730.7,543.44 731.66,543.44 732.62,543.44 733.58,543.44 734.54,543.44 735.5,543.44 736.46,543.44 737.42,543.44 738.38,543.44 739.34,543.44 740.3,543.44 741.26,543.44 742.22,543.44 743.18,543.44 744.15,543.44 745.11,543.44 746.07,543.44 747.03,543.44 747.99,543.44 748.95,543.44 749.91,543.44 750.87,543.44 751.83,543.44 752.79,543.44 753.75,543.44 754.71,543.44 755.67,543.44 756.63,543.44 757.59,543.44 758.56,543.44 759.52,543.44 760.48,543.44 761.44,543.44 762.4,543.44 763.36,543.44 764.32,543.44 765.28,543.44 766.24,543.44 767.2,543.44 768.16,543.44 769.12,543.44 770.08,543.44 771.04,543.44 772.01,543.44 772.97,543.44 773.93,543.44 774.89,543.44 775.85,543.44 776.81,543.44 777.77,543.44 778.73,543.44" stroke="#ff0000" stroke-width="2.2" fill="none" stroke-linejoin="round" stroke-dasharray="9 8.7"/>
</g>
<text x="447.5" y="609.6" text-anchor="middle">0</text>
<text x="501.8" y="609.6" text-anchor="middle">5</text>
<text x="556.1" y="609.6" text-anchor="middle">10</text>
<text x="610.4" y="609.6" text-anchor="middle">15</text>
<text x="664.7" y="609.6" text-anchor="middle">20</text>
<text x="441.3" y="594.1" text-anchor="end">4.6</text>
<text x="441.3" y="551.45" text-anchor="end">4.7</text>
<text x="441.3" y="508.8" text-anchor="end">4.8</text>
<path d="M475.1 679.5L526.4 610.1" stroke="#000" stroke-width="0.9"/>
<path d="M533.6 601.1L519.4 610.3L526.4 610.1L528.6 616.9Z" fill="#000"/>
</svg></body></html>
